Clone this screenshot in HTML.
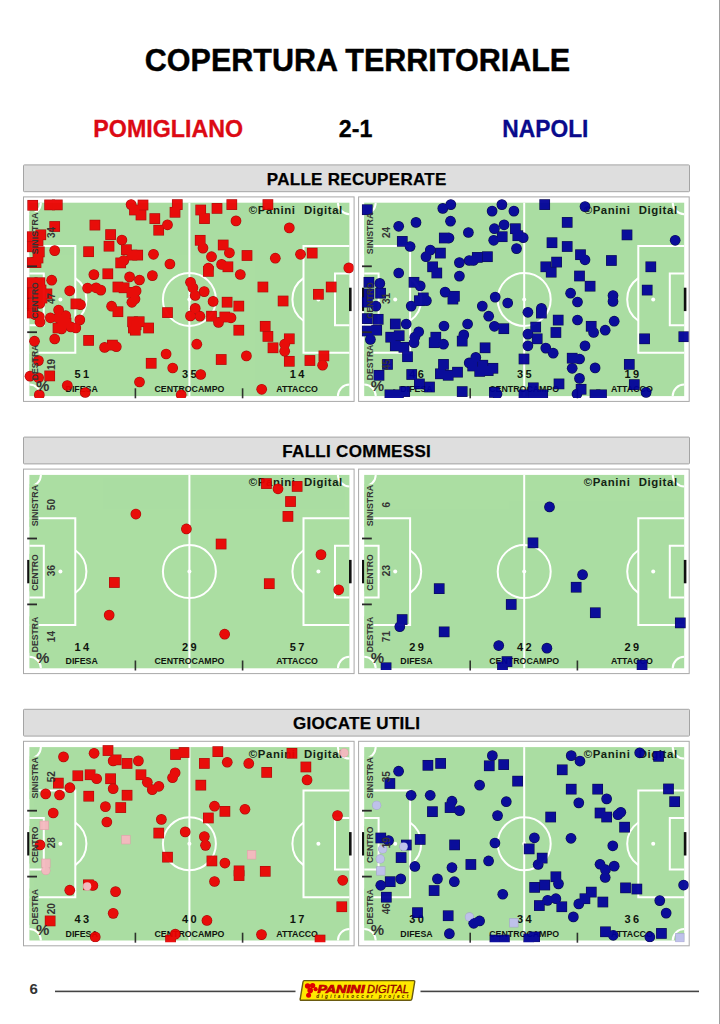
<!DOCTYPE html>
<html><head><meta charset="utf-8"><title>Copertura Territoriale</title>
<style>html,body{margin:0;padding:0;background:#fff;}svg{display:block;font-family:'Liberation Sans', Arial, sans-serif;}</style>
</head><body>
<svg width="720" height="1024" viewBox="0 0 720 1024">
<rect x="0" y="0" width="720" height="1024" fill="#fff"/>
<rect x="719" y="0" width="1" height="1024" fill="#a0a0a0"/>
<text x="357.5" y="70.6" text-anchor="middle" font-size="30.5" font-weight="bold" fill="#000" stroke="#000" stroke-width="0.4">COPERTURA TERRITORIALE</text>
<text transform="translate(168.2 136.8) scale(1.02 1.08)" text-anchor="middle" font-size="22.8" font-weight="bold" fill="#dc0a14" stroke="#dc0a14" stroke-width="0.3">POMIGLIANO</text>
<text transform="translate(355.6 136.8) scale(1.02 1.08)" text-anchor="middle" font-size="22.8" font-weight="bold" fill="#000" stroke="#000" stroke-width="0.3">2-1</text>
<text transform="translate(545.4 136.8) scale(1.0 1.08)" text-anchor="middle" font-size="22.8" font-weight="bold" fill="#0a0a8c" stroke="#0a0a8c" stroke-width="0.3">NAPOLI</text>
<rect x="23.5" y="164.9" width="666" height="26.8" rx="0.8" fill="#dedede" stroke="#a4a4a4" stroke-width="1"/>
<text x="356.7" y="184.5" text-anchor="middle" font-size="17" font-weight="bold" letter-spacing="0.3" fill="#000" stroke="#000" stroke-width="0.25">PALLE RECUPERATE</text>
<rect x="23.5" y="196.9" width="330.6" height="204.5" fill="#fff" stroke="#a8a8a8" stroke-width="1"/>
<rect x="29.4" y="202.7" width="320" height="193.4" fill="#abdea2"/>
<line x1="189.4" y1="202.7" x2="189.4" y2="396.1" fill="none" stroke="#ffffff" stroke-width="2"/>
<circle cx="189.4" cy="299.4" r="26.5" fill="none" stroke="#ffffff" stroke-width="2"/>
<circle cx="189.4" cy="299.4" r="2" fill="#ffffff"/>
<path d="M29.4 246H75.3V352.8H29.4" fill="none" stroke="#ffffff" stroke-width="2"/>
<path d="M29.4 273.6H43.8V325.2H29.4" fill="none" stroke="#ffffff" stroke-width="2"/>
<circle cx="60.4" cy="299.4" r="2" fill="#ffffff"/>
<path d="M75.3 278.09A26.0 26.0 0 0 1 75.3 320.71" fill="none" stroke="#ffffff" stroke-width="2"/>
<path d="M349.4 246H303.5V352.8H349.4" fill="none" stroke="#ffffff" stroke-width="2"/>
<path d="M349.4 273.6H335V325.2H349.4" fill="none" stroke="#ffffff" stroke-width="2"/>
<circle cx="318.4" cy="299.4" r="2" fill="#ffffff"/>
<path d="M303.5 278.09A26.0 26.0 0 0 0 303.5 320.71" fill="none" stroke="#ffffff" stroke-width="2"/>
<path d="M40.9 202.7A11.5 11.5 0 0 1 29.4 214.2" fill="none" stroke="#ffffff" stroke-width="2"/>
<path d="M337.9 202.7A11.5 11.5 0 0 0 349.4 214.2" fill="none" stroke="#ffffff" stroke-width="2"/>
<path d="M29.4 384.6A11.5 11.5 0 0 1 40.9 396.1" fill="none" stroke="#ffffff" stroke-width="2"/>
<path d="M349.4 384.6A11.5 11.5 0 0 0 337.9 396.1" fill="none" stroke="#ffffff" stroke-width="2"/>
<rect x="27.2" y="287.7" width="2.6" height="23.4" fill="#111"/>
<rect x="349" y="287.7" width="2.6" height="23.4" fill="#111"/>
<rect x="29.4" y="212.15" width="9.2" height="42.5" fill="#abdea2"/>
<rect x="29.4" y="281.65" width="9.2" height="37.5" fill="#abdea2"/>
<rect x="29.4" y="344.15" width="9.2" height="36.5" fill="#abdea2"/>
<text x="342.9" y="214" text-anchor="end" font-size="11.4" font-weight="bold" letter-spacing="0.6" word-spacing="4.5" fill="#142414">©Panini Digital</text>
<g opacity="0.9">
<text x="82.9" y="378.4" text-anchor="middle" font-size="11" font-weight="bold" letter-spacing="2.4" fill="#000000">51</text>
<text x="190.6" y="378.4" text-anchor="middle" font-size="11" font-weight="bold" letter-spacing="2.4" fill="#000000">35</text>
<text x="298.3" y="378.4" text-anchor="middle" font-size="11" font-weight="bold" letter-spacing="2.4" fill="#000000">14</text>
<text x="81.7" y="392.1" text-anchor="middle" font-size="8.8" font-weight="bold" fill="#000000">DIFESA</text>
<text x="189.4" y="392.1" text-anchor="middle" font-size="8.8" font-weight="bold" fill="#000000">CENTROCAMPO</text>
<text x="297.1" y="392.1" text-anchor="middle" font-size="8.8" font-weight="bold" fill="#000000">ATTACCO</text>
<rect x="134.6" y="388.3" width="1.6" height="10" fill="#222"/>
<rect x="241.8" y="388.3" width="1.6" height="10" fill="#222"/>
</g>
<g clip-path="url(#c00)" opacity="0.94">
<rect x="27.35" y="199.95" width="10.7" height="10.7" fill="#a80000"/>
<rect x="44.25" y="199.55" width="10.7" height="10.7" fill="#a80000"/>
<rect x="51.95" y="199.55" width="10.7" height="10.7" fill="#a80000"/>
<rect x="49.35" y="221.15" width="10.7" height="10.7" fill="#a80000"/>
<rect x="26.95" y="231.35" width="10.7" height="10.7" fill="#a80000"/>
<rect x="35.45" y="229.45" width="10.7" height="10.7" fill="#a80000"/>
<rect x="26.95" y="241.45" width="10.7" height="10.7" fill="#a80000"/>
<rect x="33.95" y="246.55" width="10.7" height="10.7" fill="#a80000"/>
<rect x="26.95" y="257.25" width="10.7" height="10.7" fill="#a80000"/>
<rect x="30.65" y="257.25" width="10.7" height="10.7" fill="#a80000"/>
<circle cx="54.7" cy="250.6" r="5.35" fill="#a80000"/>
<rect x="26.95" y="277.35" width="10.7" height="10.7" fill="#a80000"/>
<rect x="34.45" y="277.35" width="10.7" height="10.7" fill="#a80000"/>
<rect x="41.55" y="288.55" width="10.7" height="10.7" fill="#a80000"/>
<rect x="26.95" y="287.55" width="10.7" height="10.7" fill="#a80000"/>
<circle cx="51.7" cy="280.2" r="5.35" fill="#a80000"/>
<circle cx="69.7" cy="290.8" r="5.35" fill="#a80000"/>
<circle cx="131.1" cy="204.6" r="5.35" fill="#a80000"/>
<rect x="89.55" y="219.75" width="10.7" height="10.7" fill="#a80000"/>
<rect x="105.25" y="229.25" width="10.7" height="10.7" fill="#a80000"/>
<circle cx="121.9" cy="240" r="5.35" fill="#a80000"/>
<rect x="83.25" y="246.35" width="10.7" height="10.7" fill="#a80000"/>
<rect x="103.65" y="240.85" width="10.7" height="10.7" fill="#a80000"/>
<rect x="121.05" y="244.35" width="10.7" height="10.7" fill="#a80000"/>
<rect x="126.55" y="249.75" width="10.7" height="10.7" fill="#a80000"/>
<circle cx="123.8" cy="260.5" r="5.35" fill="#a80000"/>
<rect x="115.35" y="257.55" width="10.7" height="10.7" fill="#a80000"/>
<circle cx="93.9" cy="274.6" r="5.35" fill="#a80000"/>
<rect x="102.45" y="268.45" width="10.7" height="10.7" fill="#a80000"/>
<circle cx="129.6" cy="276.9" r="5.35" fill="#a80000"/>
<circle cx="87.6" cy="288.1" r="5.35" fill="#a80000"/>
<circle cx="96.1" cy="287.8" r="5.35" fill="#a80000"/>
<circle cx="100.8" cy="290.1" r="5.35" fill="#a80000"/>
<rect x="112.55" y="281.65" width="10.7" height="10.7" fill="#a80000"/>
<rect x="118.75" y="282.45" width="10.7" height="10.7" fill="#a80000"/>
<rect x="126.55" y="287.05" width="10.7" height="10.7" fill="#a80000"/>
<rect x="26.95" y="298.15" width="10.7" height="10.7" fill="#a80000"/>
<circle cx="39.8" cy="303.5" r="5.35" fill="#a80000"/>
<circle cx="39.3" cy="316.7" r="5.35" fill="#a80000"/>
<circle cx="35.2" cy="314.7" r="5.35" fill="#a80000"/>
<rect x="70.55" y="298.55" width="10.7" height="10.7" fill="#a80000"/>
<circle cx="80.5" cy="304.7" r="5.35" fill="#a80000"/>
<circle cx="58.6" cy="310.1" r="5.35" fill="#a80000"/>
<circle cx="50.4" cy="317.8" r="5.35" fill="#a80000"/>
<circle cx="58.1" cy="317.8" r="5.35" fill="#a80000"/>
<circle cx="65.7" cy="315.7" r="5.35" fill="#a80000"/>
<circle cx="61.6" cy="328.9" r="5.35" fill="#a80000"/>
<circle cx="70.8" cy="326.9" r="5.35" fill="#a80000"/>
<circle cx="75.8" cy="327.9" r="5.35" fill="#a80000"/>
<circle cx="79.8" cy="319.9" r="5.35" fill="#a80000"/>
<circle cx="54.7" cy="339" r="5.35" fill="#a80000"/>
<circle cx="34.5" cy="341.2" r="5.35" fill="#a80000"/>
<rect x="83.25" y="335.05" width="10.7" height="10.7" fill="#a80000"/>
<circle cx="104.6" cy="347.4" r="5.35" fill="#a80000"/>
<rect x="107.05" y="339.75" width="10.7" height="10.7" fill="#a80000"/>
<circle cx="116.3" cy="346.7" r="5.35" fill="#a80000"/>
<circle cx="111.6" cy="306.2" r="5.35" fill="#a80000"/>
<rect x="112.55" y="306.35" width="10.7" height="10.7" fill="#a80000"/>
<circle cx="131.9" cy="302.3" r="5.35" fill="#a80000"/>
<rect x="127.25" y="316.45" width="10.7" height="10.7" fill="#a80000"/>
<rect x="128.05" y="322.65" width="10.7" height="10.7" fill="#a80000"/>
<circle cx="38.4" cy="360.6" r="5.35" fill="#a80000"/>
<circle cx="30" cy="376.2" r="5.35" fill="#a80000"/>
<circle cx="38.6" cy="377.8" r="5.35" fill="#a80000"/>
<rect x="44.35" y="370.55" width="10.7" height="10.7" fill="#a80000"/>
<circle cx="67.3" cy="385.5" r="5.35" fill="#a80000"/>
<circle cx="85.2" cy="392.5" r="5.35" fill="#a80000"/>
<circle cx="39.3" cy="394.9" r="5.35" fill="#a80000"/>
<rect x="137.65" y="199.65" width="10.7" height="10.7" fill="#a80000"/>
<rect x="135.65" y="209.65" width="10.7" height="10.7" fill="#a80000"/>
<rect x="171.95" y="199.25" width="10.7" height="10.7" fill="#a80000"/>
<rect x="169.65" y="206.95" width="10.7" height="10.7" fill="#a80000"/>
<rect x="149.45" y="213.25" width="10.7" height="10.7" fill="#a80000"/>
<circle cx="167.5" cy="224.8" r="5.35" fill="#a80000"/>
<rect x="153.35" y="224.85" width="10.7" height="10.7" fill="#a80000"/>
<rect x="195.35" y="204.65" width="10.7" height="10.7" fill="#a80000"/>
<rect x="199.15" y="213.25" width="10.7" height="10.7" fill="#a80000"/>
<rect x="211.65" y="203.05" width="10.7" height="10.7" fill="#a80000"/>
<rect x="226.45" y="199.25" width="10.7" height="10.7" fill="#a80000"/>
<circle cx="236" cy="220.9" r="5.35" fill="#a80000"/>
<rect x="194.85" y="234.95" width="10.7" height="10.7" fill="#a80000"/>
<circle cx="203" cy="248.1" r="5.35" fill="#a80000"/>
<rect x="217.85" y="239.65" width="10.7" height="10.7" fill="#a80000"/>
<circle cx="229.4" cy="252.8" r="5.35" fill="#a80000"/>
<circle cx="211.5" cy="256.7" r="5.35" fill="#a80000"/>
<rect x="132.35" y="249.75" width="10.7" height="10.7" fill="#a80000"/>
<circle cx="153.5" cy="254.3" r="5.35" fill="#a80000"/>
<circle cx="169.9" cy="264" r="5.35" fill="#a80000"/>
<circle cx="221.6" cy="264.4" r="5.35" fill="#a80000"/>
<rect x="222.55" y="261.45" width="10.7" height="10.7" fill="#a80000"/>
<rect x="203.05" y="266.05" width="10.7" height="10.7" fill="#a80000"/>
<circle cx="208.4" cy="268" r="5.35" fill="#a80000"/>
<circle cx="240.3" cy="274.5" r="5.35" fill="#a80000"/>
<circle cx="152.4" cy="275.6" r="5.35" fill="#a80000"/>
<circle cx="139.5" cy="280" r="5.35" fill="#a80000"/>
<circle cx="136.1" cy="290.9" r="5.35" fill="#a80000"/>
<circle cx="190.5" cy="282.3" r="5.35" fill="#a80000"/>
<circle cx="192.9" cy="287.8" r="5.35" fill="#a80000"/>
<circle cx="204.2" cy="291.6" r="5.35" fill="#a80000"/>
<circle cx="195.2" cy="295.5" r="5.35" fill="#a80000"/>
<rect x="262.55" y="199.25" width="10.7" height="10.7" fill="#a80000"/>
<circle cx="289.3" cy="227.9" r="5.35" fill="#a80000"/>
<rect x="241.65" y="250.15" width="10.7" height="10.7" fill="#a80000"/>
<circle cx="275.3" cy="258.2" r="5.35" fill="#a80000"/>
<circle cx="300.5" cy="254.3" r="5.35" fill="#a80000"/>
<rect x="306.85" y="247.75" width="10.7" height="10.7" fill="#a80000"/>
<circle cx="348.8" cy="267.9" r="5.35" fill="#a80000"/>
<rect x="257.55" y="281.65" width="10.7" height="10.7" fill="#a80000"/>
<rect x="325.85" y="281.65" width="10.7" height="10.7" fill="#a80000"/>
<rect x="313.05" y="288.95" width="10.7" height="10.7" fill="#a80000"/>
<circle cx="135" cy="299" r="5.35" fill="#a80000"/>
<circle cx="213.1" cy="301.4" r="5.35" fill="#a80000"/>
<rect x="221.75" y="296.85" width="10.7" height="10.7" fill="#a80000"/>
<rect x="233.45" y="300.75" width="10.7" height="10.7" fill="#a80000"/>
<rect x="162.15" y="307.25" width="10.7" height="10.7" fill="#a80000"/>
<circle cx="195.2" cy="308.4" r="5.35" fill="#a80000"/>
<circle cx="190.5" cy="315.9" r="5.35" fill="#a80000"/>
<circle cx="199.9" cy="316.2" r="5.35" fill="#a80000"/>
<rect x="206.15" y="310.85" width="10.7" height="10.7" fill="#a80000"/>
<circle cx="218.5" cy="322.4" r="5.35" fill="#a80000"/>
<rect x="219.45" y="311.65" width="10.7" height="10.7" fill="#a80000"/>
<circle cx="231" cy="317.8" r="5.35" fill="#a80000"/>
<rect x="233.45" y="324.85" width="10.7" height="10.7" fill="#a80000"/>
<rect x="130.75" y="319.45" width="10.7" height="10.7" fill="#a80000"/>
<rect x="133.85" y="316.35" width="10.7" height="10.7" fill="#a80000"/>
<rect x="143.25" y="322.65" width="10.7" height="10.7" fill="#a80000"/>
<rect x="129.95" y="324.85" width="10.7" height="10.7" fill="#a80000"/>
<circle cx="196.8" cy="344.2" r="5.35" fill="#a80000"/>
<circle cx="166.1" cy="354" r="5.35" fill="#a80000"/>
<rect x="145.85" y="357.95" width="10.7" height="10.7" fill="#a80000"/>
<circle cx="172.7" cy="368" r="5.35" fill="#a80000"/>
<rect x="215.85" y="354.15" width="10.7" height="10.7" fill="#a80000"/>
<circle cx="200.7" cy="374.5" r="5.35" fill="#a80000"/>
<circle cx="139.5" cy="382" r="5.35" fill="#a80000"/>
<circle cx="181.2" cy="394.8" r="5.35" fill="#a80000"/>
<rect x="277.75" y="295.65" width="10.7" height="10.7" fill="#a80000"/>
<rect x="259.85" y="320.95" width="10.7" height="10.7" fill="#a80000"/>
<rect x="262.55" y="331.05" width="10.7" height="10.7" fill="#a80000"/>
<rect x="267.65" y="342.45" width="10.7" height="10.7" fill="#a80000"/>
<rect x="283.95" y="333.45" width="10.7" height="10.7" fill="#a80000"/>
<circle cx="284.7" cy="344.2" r="5.35" fill="#a80000"/>
<circle cx="284.7" cy="351.2" r="5.35" fill="#a80000"/>
<rect x="283.95" y="355.95" width="10.7" height="10.7" fill="#a80000"/>
<circle cx="246.4" cy="355.9" r="5.35" fill="#a80000"/>
<rect x="304.55" y="355.15" width="10.7" height="10.7" fill="#a80000"/>
<rect x="318.55" y="350.55" width="10.7" height="10.7" fill="#a80000"/>
<circle cx="322.6" cy="365.2" r="5.35" fill="#a80000"/>
<circle cx="261.7" cy="389.3" r="5.35" fill="#a80000"/>
<rect x="129.15" y="204.65" width="10.7" height="10.7" fill="#a80000"/>
<rect x="32.65" y="235.65" width="10.7" height="10.7" fill="#a80000"/>
<rect x="32.65" y="252.65" width="10.7" height="10.7" fill="#a80000"/>
<rect x="60.65" y="317.65" width="10.7" height="10.7" fill="#a80000"/>
<rect x="26.95" y="307.65" width="10.7" height="10.7" fill="#a80000"/>
<circle cx="40" cy="322" r="5.35" fill="#a80000"/>
<rect x="36.65" y="292.65" width="10.7" height="10.7" fill="#a80000"/>
<rect x="35.65" y="284.65" width="10.7" height="10.7" fill="#a80000"/>
<circle cx="62" cy="322" r="5.35" fill="#a80000"/>
<rect x="52.65" y="322.65" width="10.7" height="10.7" fill="#a80000"/>
<rect x="27.95" y="200.55" width="9.5" height="9.5" fill="#ec0000"/>
<rect x="44.85" y="200.15" width="9.5" height="9.5" fill="#ec0000"/>
<rect x="52.55" y="200.15" width="9.5" height="9.5" fill="#ec0000"/>
<rect x="49.95" y="221.75" width="9.5" height="9.5" fill="#ec0000"/>
<rect x="27.55" y="231.95" width="9.5" height="9.5" fill="#ec0000"/>
<rect x="36.05" y="230.05" width="9.5" height="9.5" fill="#ec0000"/>
<rect x="27.55" y="242.05" width="9.5" height="9.5" fill="#ec0000"/>
<rect x="34.55" y="247.15" width="9.5" height="9.5" fill="#ec0000"/>
<rect x="27.55" y="257.85" width="9.5" height="9.5" fill="#ec0000"/>
<rect x="31.25" y="257.85" width="9.5" height="9.5" fill="#ec0000"/>
<circle cx="54.7" cy="250.6" r="4.75" fill="#ec0000"/>
<rect x="27.55" y="277.95" width="9.5" height="9.5" fill="#ec0000"/>
<rect x="35.05" y="277.95" width="9.5" height="9.5" fill="#ec0000"/>
<rect x="42.15" y="289.15" width="9.5" height="9.5" fill="#ec0000"/>
<rect x="27.55" y="288.15" width="9.5" height="9.5" fill="#ec0000"/>
<circle cx="51.7" cy="280.2" r="4.75" fill="#ec0000"/>
<circle cx="69.7" cy="290.8" r="4.75" fill="#ec0000"/>
<circle cx="131.1" cy="204.6" r="4.75" fill="#ec0000"/>
<rect x="90.15" y="220.35" width="9.5" height="9.5" fill="#ec0000"/>
<rect x="105.85" y="229.85" width="9.5" height="9.5" fill="#ec0000"/>
<circle cx="121.9" cy="240" r="4.75" fill="#ec0000"/>
<rect x="83.85" y="246.95" width="9.5" height="9.5" fill="#ec0000"/>
<rect x="104.25" y="241.45" width="9.5" height="9.5" fill="#ec0000"/>
<rect x="121.65" y="244.95" width="9.5" height="9.5" fill="#ec0000"/>
<rect x="127.15" y="250.35" width="9.5" height="9.5" fill="#ec0000"/>
<circle cx="123.8" cy="260.5" r="4.75" fill="#ec0000"/>
<rect x="115.95" y="258.15" width="9.5" height="9.5" fill="#ec0000"/>
<circle cx="93.9" cy="274.6" r="4.75" fill="#ec0000"/>
<rect x="103.05" y="269.05" width="9.5" height="9.5" fill="#ec0000"/>
<circle cx="129.6" cy="276.9" r="4.75" fill="#ec0000"/>
<circle cx="87.6" cy="288.1" r="4.75" fill="#ec0000"/>
<circle cx="96.1" cy="287.8" r="4.75" fill="#ec0000"/>
<circle cx="100.8" cy="290.1" r="4.75" fill="#ec0000"/>
<rect x="113.15" y="282.25" width="9.5" height="9.5" fill="#ec0000"/>
<rect x="119.35" y="283.05" width="9.5" height="9.5" fill="#ec0000"/>
<rect x="127.15" y="287.65" width="9.5" height="9.5" fill="#ec0000"/>
<rect x="27.55" y="298.75" width="9.5" height="9.5" fill="#ec0000"/>
<circle cx="39.8" cy="303.5" r="4.75" fill="#ec0000"/>
<circle cx="39.3" cy="316.7" r="4.75" fill="#ec0000"/>
<circle cx="35.2" cy="314.7" r="4.75" fill="#ec0000"/>
<rect x="71.15" y="299.15" width="9.5" height="9.5" fill="#ec0000"/>
<circle cx="80.5" cy="304.7" r="4.75" fill="#ec0000"/>
<circle cx="58.6" cy="310.1" r="4.75" fill="#ec0000"/>
<circle cx="50.4" cy="317.8" r="4.75" fill="#ec0000"/>
<circle cx="58.1" cy="317.8" r="4.75" fill="#ec0000"/>
<circle cx="65.7" cy="315.7" r="4.75" fill="#ec0000"/>
<circle cx="61.6" cy="328.9" r="4.75" fill="#ec0000"/>
<circle cx="70.8" cy="326.9" r="4.75" fill="#ec0000"/>
<circle cx="75.8" cy="327.9" r="4.75" fill="#ec0000"/>
<circle cx="79.8" cy="319.9" r="4.75" fill="#ec0000"/>
<circle cx="54.7" cy="339" r="4.75" fill="#ec0000"/>
<circle cx="34.5" cy="341.2" r="4.75" fill="#ec0000"/>
<rect x="83.85" y="335.65" width="9.5" height="9.5" fill="#ec0000"/>
<circle cx="104.6" cy="347.4" r="4.75" fill="#ec0000"/>
<rect x="107.65" y="340.35" width="9.5" height="9.5" fill="#ec0000"/>
<circle cx="116.3" cy="346.7" r="4.75" fill="#ec0000"/>
<circle cx="111.6" cy="306.2" r="4.75" fill="#ec0000"/>
<rect x="113.15" y="306.95" width="9.5" height="9.5" fill="#ec0000"/>
<circle cx="131.9" cy="302.3" r="4.75" fill="#ec0000"/>
<rect x="127.85" y="317.05" width="9.5" height="9.5" fill="#ec0000"/>
<rect x="128.65" y="323.25" width="9.5" height="9.5" fill="#ec0000"/>
<circle cx="38.4" cy="360.6" r="4.75" fill="#ec0000"/>
<circle cx="30" cy="376.2" r="4.75" fill="#ec0000"/>
<circle cx="38.6" cy="377.8" r="4.75" fill="#ec0000"/>
<rect x="44.95" y="371.15" width="9.5" height="9.5" fill="#ec0000"/>
<circle cx="67.3" cy="385.5" r="4.75" fill="#ec0000"/>
<circle cx="85.2" cy="392.5" r="4.75" fill="#ec0000"/>
<circle cx="39.3" cy="394.9" r="4.75" fill="#ec0000"/>
<rect x="138.25" y="200.25" width="9.5" height="9.5" fill="#ec0000"/>
<rect x="136.25" y="210.25" width="9.5" height="9.5" fill="#ec0000"/>
<rect x="172.55" y="199.85" width="9.5" height="9.5" fill="#ec0000"/>
<rect x="170.25" y="207.55" width="9.5" height="9.5" fill="#ec0000"/>
<rect x="150.05" y="213.85" width="9.5" height="9.5" fill="#ec0000"/>
<circle cx="167.5" cy="224.8" r="4.75" fill="#ec0000"/>
<rect x="153.95" y="225.45" width="9.5" height="9.5" fill="#ec0000"/>
<rect x="195.95" y="205.25" width="9.5" height="9.5" fill="#ec0000"/>
<rect x="199.75" y="213.85" width="9.5" height="9.5" fill="#ec0000"/>
<rect x="212.25" y="203.65" width="9.5" height="9.5" fill="#ec0000"/>
<rect x="227.05" y="199.85" width="9.5" height="9.5" fill="#ec0000"/>
<circle cx="236" cy="220.9" r="4.75" fill="#ec0000"/>
<rect x="195.45" y="235.55" width="9.5" height="9.5" fill="#ec0000"/>
<circle cx="203" cy="248.1" r="4.75" fill="#ec0000"/>
<rect x="218.45" y="240.25" width="9.5" height="9.5" fill="#ec0000"/>
<circle cx="229.4" cy="252.8" r="4.75" fill="#ec0000"/>
<circle cx="211.5" cy="256.7" r="4.75" fill="#ec0000"/>
<rect x="132.95" y="250.35" width="9.5" height="9.5" fill="#ec0000"/>
<circle cx="153.5" cy="254.3" r="4.75" fill="#ec0000"/>
<circle cx="169.9" cy="264" r="4.75" fill="#ec0000"/>
<circle cx="221.6" cy="264.4" r="4.75" fill="#ec0000"/>
<rect x="223.15" y="262.05" width="9.5" height="9.5" fill="#ec0000"/>
<rect x="203.65" y="266.65" width="9.5" height="9.5" fill="#ec0000"/>
<circle cx="208.4" cy="268" r="4.75" fill="#ec0000"/>
<circle cx="240.3" cy="274.5" r="4.75" fill="#ec0000"/>
<circle cx="152.4" cy="275.6" r="4.75" fill="#ec0000"/>
<circle cx="139.5" cy="280" r="4.75" fill="#ec0000"/>
<circle cx="136.1" cy="290.9" r="4.75" fill="#ec0000"/>
<circle cx="190.5" cy="282.3" r="4.75" fill="#ec0000"/>
<circle cx="192.9" cy="287.8" r="4.75" fill="#ec0000"/>
<circle cx="204.2" cy="291.6" r="4.75" fill="#ec0000"/>
<circle cx="195.2" cy="295.5" r="4.75" fill="#ec0000"/>
<rect x="263.15" y="199.85" width="9.5" height="9.5" fill="#ec0000"/>
<circle cx="289.3" cy="227.9" r="4.75" fill="#ec0000"/>
<rect x="242.25" y="250.75" width="9.5" height="9.5" fill="#ec0000"/>
<circle cx="275.3" cy="258.2" r="4.75" fill="#ec0000"/>
<circle cx="300.5" cy="254.3" r="4.75" fill="#ec0000"/>
<rect x="307.45" y="248.35" width="9.5" height="9.5" fill="#ec0000"/>
<circle cx="348.8" cy="267.9" r="4.75" fill="#ec0000"/>
<rect x="258.15" y="282.25" width="9.5" height="9.5" fill="#ec0000"/>
<rect x="326.45" y="282.25" width="9.5" height="9.5" fill="#ec0000"/>
<rect x="313.65" y="289.55" width="9.5" height="9.5" fill="#ec0000"/>
<circle cx="135" cy="299" r="4.75" fill="#ec0000"/>
<circle cx="213.1" cy="301.4" r="4.75" fill="#ec0000"/>
<rect x="222.35" y="297.45" width="9.5" height="9.5" fill="#ec0000"/>
<rect x="234.05" y="301.35" width="9.5" height="9.5" fill="#ec0000"/>
<rect x="162.75" y="307.85" width="9.5" height="9.5" fill="#ec0000"/>
<circle cx="195.2" cy="308.4" r="4.75" fill="#ec0000"/>
<circle cx="190.5" cy="315.9" r="4.75" fill="#ec0000"/>
<circle cx="199.9" cy="316.2" r="4.75" fill="#ec0000"/>
<rect x="206.75" y="311.45" width="9.5" height="9.5" fill="#ec0000"/>
<circle cx="218.5" cy="322.4" r="4.75" fill="#ec0000"/>
<rect x="220.05" y="312.25" width="9.5" height="9.5" fill="#ec0000"/>
<circle cx="231" cy="317.8" r="4.75" fill="#ec0000"/>
<rect x="234.05" y="325.45" width="9.5" height="9.5" fill="#ec0000"/>
<rect x="131.35" y="320.05" width="9.5" height="9.5" fill="#ec0000"/>
<rect x="134.45" y="316.95" width="9.5" height="9.5" fill="#ec0000"/>
<rect x="143.85" y="323.25" width="9.5" height="9.5" fill="#ec0000"/>
<rect x="130.55" y="325.45" width="9.5" height="9.5" fill="#ec0000"/>
<circle cx="196.8" cy="344.2" r="4.75" fill="#ec0000"/>
<circle cx="166.1" cy="354" r="4.75" fill="#ec0000"/>
<rect x="146.45" y="358.55" width="9.5" height="9.5" fill="#ec0000"/>
<circle cx="172.7" cy="368" r="4.75" fill="#ec0000"/>
<rect x="216.45" y="354.75" width="9.5" height="9.5" fill="#ec0000"/>
<circle cx="200.7" cy="374.5" r="4.75" fill="#ec0000"/>
<circle cx="139.5" cy="382" r="4.75" fill="#ec0000"/>
<circle cx="181.2" cy="394.8" r="4.75" fill="#ec0000"/>
<rect x="278.35" y="296.25" width="9.5" height="9.5" fill="#ec0000"/>
<rect x="260.45" y="321.55" width="9.5" height="9.5" fill="#ec0000"/>
<rect x="263.15" y="331.65" width="9.5" height="9.5" fill="#ec0000"/>
<rect x="268.25" y="343.05" width="9.5" height="9.5" fill="#ec0000"/>
<rect x="284.55" y="334.05" width="9.5" height="9.5" fill="#ec0000"/>
<circle cx="284.7" cy="344.2" r="4.75" fill="#ec0000"/>
<circle cx="284.7" cy="351.2" r="4.75" fill="#ec0000"/>
<rect x="284.55" y="356.55" width="9.5" height="9.5" fill="#ec0000"/>
<circle cx="246.4" cy="355.9" r="4.75" fill="#ec0000"/>
<rect x="305.15" y="355.75" width="9.5" height="9.5" fill="#ec0000"/>
<rect x="319.15" y="351.15" width="9.5" height="9.5" fill="#ec0000"/>
<circle cx="322.6" cy="365.2" r="4.75" fill="#ec0000"/>
<circle cx="261.7" cy="389.3" r="4.75" fill="#ec0000"/>
<rect x="129.75" y="205.25" width="9.5" height="9.5" fill="#ec0000"/>
<rect x="33.25" y="236.25" width="9.5" height="9.5" fill="#ec0000"/>
<rect x="33.25" y="253.25" width="9.5" height="9.5" fill="#ec0000"/>
<rect x="61.25" y="318.25" width="9.5" height="9.5" fill="#ec0000"/>
<rect x="27.55" y="308.25" width="9.5" height="9.5" fill="#ec0000"/>
<circle cx="40" cy="322" r="4.75" fill="#ec0000"/>
<rect x="37.25" y="293.25" width="9.5" height="9.5" fill="#ec0000"/>
<rect x="36.25" y="285.25" width="9.5" height="9.5" fill="#ec0000"/>
<circle cx="62" cy="322" r="4.75" fill="#ec0000"/>
<rect x="53.25" y="323.25" width="9.5" height="9.5" fill="#ec0000"/>
</g>
<g>
<text transform="translate(38 233.4) rotate(-90)" text-anchor="middle" font-size="8.7" font-weight="bold" textLength="41.5" lengthAdjust="spacingAndGlyphs" fill="#343434">SINISTRA</text>
<text transform="translate(38 300.4) rotate(-90)" text-anchor="middle" font-size="8.7" font-weight="bold" textLength="36.5" lengthAdjust="spacingAndGlyphs" fill="#343434">CENTRO</text>
<text transform="translate(38 362.4) rotate(-90)" text-anchor="middle" font-size="8.7" font-weight="bold" textLength="35.5" lengthAdjust="spacingAndGlyphs" fill="#343434">DESTRA</text>
<rect x="27.2" y="265.4" width="9.8" height="1.8" fill="#2a2a2a"/>
<rect x="27.2" y="331.3" width="9.8" height="1.8" fill="#2a2a2a"/>
<text transform="translate(54.7 232.4) rotate(-90)" text-anchor="middle" font-size="10" font-weight="bold" fill="#343434">34</text>
<text transform="translate(54.7 298.4) rotate(-90)" text-anchor="middle" font-size="10" font-weight="bold" fill="#343434">47</text>
<text transform="translate(54.7 364.4) rotate(-90)" text-anchor="middle" font-size="10" font-weight="bold" fill="#343434">19</text>
<text x="35.9" y="390.9" font-size="15" font-weight="bold" fill="#343434">%</text>
</g>
<clipPath id="c00"><rect x="24" y="197.4" width="329.6" height="200.5"/></clipPath>
<rect x="358.6" y="196.9" width="330.6" height="204.5" fill="#fff" stroke="#a8a8a8" stroke-width="1"/>
<rect x="364.2" y="202.7" width="320" height="193.4" fill="#abdea2"/>
<line x1="524.2" y1="202.7" x2="524.2" y2="396.1" fill="none" stroke="#ffffff" stroke-width="2"/>
<circle cx="524.2" cy="299.4" r="26.5" fill="none" stroke="#ffffff" stroke-width="2"/>
<circle cx="524.2" cy="299.4" r="2" fill="#ffffff"/>
<path d="M364.2 246H410.1V352.8H364.2" fill="none" stroke="#ffffff" stroke-width="2"/>
<path d="M364.2 273.6H378.6V325.2H364.2" fill="none" stroke="#ffffff" stroke-width="2"/>
<circle cx="395.2" cy="299.4" r="2" fill="#ffffff"/>
<path d="M410.1 278.09A26.0 26.0 0 0 1 410.1 320.71" fill="none" stroke="#ffffff" stroke-width="2"/>
<path d="M684.2 246H638.3V352.8H684.2" fill="none" stroke="#ffffff" stroke-width="2"/>
<path d="M684.2 273.6H669.8V325.2H684.2" fill="none" stroke="#ffffff" stroke-width="2"/>
<circle cx="653.2" cy="299.4" r="2" fill="#ffffff"/>
<path d="M638.3 278.09A26.0 26.0 0 0 0 638.3 320.71" fill="none" stroke="#ffffff" stroke-width="2"/>
<path d="M375.7 202.7A11.5 11.5 0 0 1 364.2 214.2" fill="none" stroke="#ffffff" stroke-width="2"/>
<path d="M672.7 202.7A11.5 11.5 0 0 0 684.2 214.2" fill="none" stroke="#ffffff" stroke-width="2"/>
<path d="M364.2 384.6A11.5 11.5 0 0 1 375.7 396.1" fill="none" stroke="#ffffff" stroke-width="2"/>
<path d="M684.2 384.6A11.5 11.5 0 0 0 672.7 396.1" fill="none" stroke="#ffffff" stroke-width="2"/>
<rect x="362" y="287.7" width="2.6" height="23.4" fill="#111"/>
<rect x="683.8" y="287.7" width="2.6" height="23.4" fill="#111"/>
<rect x="364.2" y="212.15" width="9.2" height="42.5" fill="#abdea2"/>
<rect x="364.2" y="281.65" width="9.2" height="37.5" fill="#abdea2"/>
<rect x="364.2" y="344.15" width="9.2" height="36.5" fill="#abdea2"/>
<text x="677.7" y="214" text-anchor="end" font-size="11.4" font-weight="bold" letter-spacing="0.6" word-spacing="4.5" fill="#142414">©Panini Digital</text>
<g opacity="0.9">
<text x="417.7" y="378.4" text-anchor="middle" font-size="11" font-weight="bold" letter-spacing="2.4" fill="#000000">46</text>
<text x="525.4" y="378.4" text-anchor="middle" font-size="11" font-weight="bold" letter-spacing="2.4" fill="#000000">35</text>
<text x="633.1" y="378.4" text-anchor="middle" font-size="11" font-weight="bold" letter-spacing="2.4" fill="#000000">19</text>
<text x="416.5" y="392.1" text-anchor="middle" font-size="8.8" font-weight="bold" fill="#000000">DIFESA</text>
<text x="524.2" y="392.1" text-anchor="middle" font-size="8.8" font-weight="bold" fill="#000000">CENTROCAMPO</text>
<text x="631.9" y="392.1" text-anchor="middle" font-size="8.8" font-weight="bold" fill="#000000">ATTACCO</text>
<rect x="469.4" y="388.3" width="1.6" height="10" fill="#222"/>
<rect x="576.6" y="388.3" width="1.6" height="10" fill="#222"/>
</g>
<g clip-path="url(#c01)" opacity="0.94">
<rect x="361.95" y="204.35" width="10.7" height="10.7" fill="#00004a"/>
<circle cx="442.8" cy="208.4" r="5.35" fill="#00004a"/>
<circle cx="450.8" cy="204.6" r="5.35" fill="#00004a"/>
<circle cx="398.7" cy="226.3" r="5.35" fill="#00004a"/>
<circle cx="416" cy="222.4" r="5.35" fill="#00004a"/>
<circle cx="450.5" cy="221.2" r="5.35" fill="#00004a"/>
<circle cx="468.4" cy="232.5" r="5.35" fill="#00004a"/>
<rect x="438.95" y="232.65" width="10.7" height="10.7" fill="#00004a"/>
<circle cx="449" cy="238" r="5.35" fill="#00004a"/>
<rect x="396.95" y="236.05" width="10.7" height="10.7" fill="#00004a"/>
<circle cx="410.1" cy="246.5" r="5.35" fill="#00004a"/>
<circle cx="430.3" cy="250.1" r="5.35" fill="#00004a"/>
<circle cx="426" cy="256.7" r="5.35" fill="#00004a"/>
<rect x="435.05" y="247.75" width="10.7" height="10.7" fill="#00004a"/>
<circle cx="459.4" cy="262.6" r="5.35" fill="#00004a"/>
<circle cx="469.2" cy="260.5" r="5.35" fill="#00004a"/>
<rect x="427.25" y="261.45" width="10.7" height="10.7" fill="#00004a"/>
<rect x="431.45" y="267.65" width="10.7" height="10.7" fill="#00004a"/>
<circle cx="459.4" cy="276.1" r="5.35" fill="#00004a"/>
<circle cx="398.7" cy="273" r="5.35" fill="#00004a"/>
<rect x="408.65" y="276.95" width="10.7" height="10.7" fill="#00004a"/>
<circle cx="420.2" cy="285.9" r="5.35" fill="#00004a"/>
<rect x="363.55" y="276.95" width="10.7" height="10.7" fill="#00004a"/>
<circle cx="379.8" cy="283.4" r="5.35" fill="#00004a"/>
<rect x="363.55" y="288.65" width="10.7" height="10.7" fill="#00004a"/>
<rect x="375.25" y="287.85" width="10.7" height="10.7" fill="#00004a"/>
<circle cx="445.1" cy="292.1" r="5.35" fill="#00004a"/>
<rect x="449.05" y="290.95" width="10.7" height="10.7" fill="#00004a"/>
<rect x="417.95" y="292.55" width="10.7" height="10.7" fill="#00004a"/>
<circle cx="501.9" cy="204.6" r="5.35" fill="#00004a"/>
<circle cx="492.1" cy="211.1" r="5.35" fill="#00004a"/>
<circle cx="513.9" cy="211.1" r="5.35" fill="#00004a"/>
<rect x="539.35" y="199.25" width="10.7" height="10.7" fill="#00004a"/>
<circle cx="504.1" cy="224.8" r="5.35" fill="#00004a"/>
<circle cx="494.4" cy="228.7" r="5.35" fill="#00004a"/>
<rect x="510.05" y="223.35" width="10.7" height="10.7" fill="#00004a"/>
<rect x="496.85" y="231.35" width="10.7" height="10.7" fill="#00004a"/>
<circle cx="493.7" cy="240.3" r="5.35" fill="#00004a"/>
<circle cx="523.2" cy="237.7" r="5.35" fill="#00004a"/>
<rect x="512.45" y="230.35" width="10.7" height="10.7" fill="#00004a"/>
<circle cx="516.5" cy="248.6" r="5.35" fill="#00004a"/>
<rect x="561.85" y="217.05" width="10.7" height="10.7" fill="#00004a"/>
<rect x="546.65" y="237.35" width="10.7" height="10.7" fill="#00004a"/>
<rect x="561.85" y="241.15" width="10.7" height="10.7" fill="#00004a"/>
<rect x="471.95" y="252.05" width="10.7" height="10.7" fill="#00004a"/>
<rect x="482.05" y="251.35" width="10.7" height="10.7" fill="#00004a"/>
<circle cx="473.4" cy="260.5" r="5.35" fill="#00004a"/>
<rect x="540.45" y="261.45" width="10.7" height="10.7" fill="#00004a"/>
<rect x="551.25" y="256.75" width="10.7" height="10.7" fill="#00004a"/>
<rect x="545.85" y="266.85" width="10.7" height="10.7" fill="#00004a"/>
<circle cx="570.6" cy="293.2" r="5.35" fill="#00004a"/>
<circle cx="495.2" cy="297.1" r="5.35" fill="#00004a"/>
<circle cx="585" cy="206.6" r="5.35" fill="#00004a"/>
<rect x="621.65" y="229.55" width="10.7" height="10.7" fill="#00004a"/>
<circle cx="675.2" cy="240.3" r="5.35" fill="#00004a"/>
<rect x="575.15" y="249.35" width="10.7" height="10.7" fill="#00004a"/>
<circle cx="585" cy="259.8" r="5.35" fill="#00004a"/>
<rect x="606.05" y="255.15" width="10.7" height="10.7" fill="#00004a"/>
<rect x="645.45" y="261.45" width="10.7" height="10.7" fill="#00004a"/>
<rect x="574.15" y="270.65" width="10.7" height="10.7" fill="#00004a"/>
<rect x="584.75" y="280.85" width="10.7" height="10.7" fill="#00004a"/>
<rect x="641.85" y="284.75" width="10.7" height="10.7" fill="#00004a"/>
<circle cx="613" cy="295.5" r="5.35" fill="#00004a"/>
<rect x="361.95" y="296.85" width="10.7" height="10.7" fill="#00004a"/>
<circle cx="375.9" cy="306.1" r="5.35" fill="#00004a"/>
<rect x="361.95" y="313.25" width="10.7" height="10.7" fill="#00004a"/>
<rect x="372.85" y="313.95" width="10.7" height="10.7" fill="#00004a"/>
<rect x="361.95" y="325.65" width="10.7" height="10.7" fill="#00004a"/>
<rect x="371.35" y="324.85" width="10.7" height="10.7" fill="#00004a"/>
<circle cx="370.4" cy="339.5" r="5.35" fill="#00004a"/>
<rect x="414.05" y="295.35" width="10.7" height="10.7" fill="#00004a"/>
<circle cx="426.4" cy="300.7" r="5.35" fill="#00004a"/>
<rect x="447.55" y="293.75" width="10.7" height="10.7" fill="#00004a"/>
<circle cx="411.2" cy="306.1" r="5.35" fill="#00004a"/>
<rect x="389.95" y="318.65" width="10.7" height="10.7" fill="#00004a"/>
<circle cx="406.2" cy="324" r="5.35" fill="#00004a"/>
<rect x="385.35" y="331.85" width="10.7" height="10.7" fill="#00004a"/>
<rect x="393.85" y="330.35" width="10.7" height="10.7" fill="#00004a"/>
<rect x="389.95" y="340.45" width="10.7" height="10.7" fill="#00004a"/>
<rect x="398.55" y="341.95" width="10.7" height="10.7" fill="#00004a"/>
<rect x="402.15" y="351.35" width="10.7" height="10.7" fill="#00004a"/>
<circle cx="418.7" cy="331.8" r="5.35" fill="#00004a"/>
<circle cx="414.8" cy="337.2" r="5.35" fill="#00004a"/>
<circle cx="414" cy="342.7" r="5.35" fill="#00004a"/>
<rect x="428.85" y="337.35" width="10.7" height="10.7" fill="#00004a"/>
<circle cx="443.5" cy="344.2" r="5.35" fill="#00004a"/>
<rect x="430.45" y="331.85" width="10.7" height="10.7" fill="#00004a"/>
<circle cx="444" cy="326" r="5.35" fill="#00004a"/>
<circle cx="467.6" cy="324" r="5.35" fill="#00004a"/>
<circle cx="463.8" cy="334.9" r="5.35" fill="#00004a"/>
<rect x="456.85" y="335.75" width="10.7" height="10.7" fill="#00004a"/>
<rect x="382.15" y="359.05" width="10.7" height="10.7" fill="#00004a"/>
<rect x="373.65" y="369.95" width="10.7" height="10.7" fill="#00004a"/>
<rect x="406.35" y="369.15" width="10.7" height="10.7" fill="#00004a"/>
<rect x="414.05" y="378.55" width="10.7" height="10.7" fill="#00004a"/>
<rect x="424.15" y="381.65" width="10.7" height="10.7" fill="#00004a"/>
<rect x="438.15" y="359.05" width="10.7" height="10.7" fill="#00004a"/>
<rect x="435.05" y="368.45" width="10.7" height="10.7" fill="#00004a"/>
<rect x="442.85" y="369.95" width="10.7" height="10.7" fill="#00004a"/>
<rect x="452.15" y="366.85" width="10.7" height="10.7" fill="#00004a"/>
<rect x="384.55" y="389.45" width="10.7" height="10.7" fill="#00004a"/>
<rect x="393.05" y="389.45" width="10.7" height="10.7" fill="#00004a"/>
<rect x="399.35" y="386.25" width="10.7" height="10.7" fill="#00004a"/>
<rect x="456.85" y="386.25" width="10.7" height="10.7" fill="#00004a"/>
<circle cx="469.2" cy="362.9" r="5.35" fill="#00004a"/>
<circle cx="507.7" cy="303" r="5.35" fill="#00004a"/>
<circle cx="482.3" cy="306.1" r="5.35" fill="#00004a"/>
<circle cx="527.9" cy="312.3" r="5.35" fill="#00004a"/>
<rect x="536.05" y="307.75" width="10.7" height="10.7" fill="#00004a"/>
<circle cx="541.4" cy="308.4" r="5.35" fill="#00004a"/>
<circle cx="488.7" cy="316.2" r="5.35" fill="#00004a"/>
<rect x="552.85" y="314.75" width="10.7" height="10.7" fill="#00004a"/>
<circle cx="494.4" cy="326.3" r="5.35" fill="#00004a"/>
<rect x="498.45" y="323.35" width="10.7" height="10.7" fill="#00004a"/>
<rect x="530.35" y="321.75" width="10.7" height="10.7" fill="#00004a"/>
<circle cx="527.9" cy="334.1" r="5.35" fill="#00004a"/>
<rect x="531.85" y="333.45" width="10.7" height="10.7" fill="#00004a"/>
<rect x="550.55" y="327.15" width="10.7" height="10.7" fill="#00004a"/>
<circle cx="527.9" cy="345.8" r="5.35" fill="#00004a"/>
<circle cx="545.8" cy="348.1" r="5.35" fill="#00004a"/>
<circle cx="553.2" cy="353.2" r="5.35" fill="#00004a"/>
<rect x="479.75" y="342.45" width="10.7" height="10.7" fill="#00004a"/>
<rect x="518.65" y="353.65" width="10.7" height="10.7" fill="#00004a"/>
<circle cx="475.8" cy="357.4" r="5.35" fill="#00004a"/>
<rect x="467.35" y="360.65" width="10.7" height="10.7" fill="#00004a"/>
<rect x="477.45" y="359.85" width="10.7" height="10.7" fill="#00004a"/>
<rect x="487.55" y="362.95" width="10.7" height="10.7" fill="#00004a"/>
<rect x="474.35" y="366.05" width="10.7" height="10.7" fill="#00004a"/>
<rect x="482.85" y="365.25" width="10.7" height="10.7" fill="#00004a"/>
<rect x="566.85" y="352.85" width="10.7" height="10.7" fill="#00004a"/>
<circle cx="572.2" cy="368.3" r="5.35" fill="#00004a"/>
<rect x="553.65" y="378.55" width="10.7" height="10.7" fill="#00004a"/>
<rect x="489.05" y="387.05" width="10.7" height="10.7" fill="#00004a"/>
<circle cx="497" cy="394" r="5.35" fill="#00004a"/>
<rect x="527.95" y="382.45" width="10.7" height="10.7" fill="#00004a"/>
<rect x="518.65" y="389.45" width="10.7" height="10.7" fill="#00004a"/>
<rect x="527.95" y="389.45" width="10.7" height="10.7" fill="#00004a"/>
<rect x="537.35" y="389.45" width="10.7" height="10.7" fill="#00004a"/>
<circle cx="613" cy="301.4" r="5.35" fill="#00004a"/>
<circle cx="577.5" cy="302" r="5.35" fill="#00004a"/>
<circle cx="577.5" cy="320" r="5.35" fill="#00004a"/>
<rect x="585.85" y="320.95" width="10.7" height="10.7" fill="#00004a"/>
<circle cx="593.6" cy="332.5" r="5.35" fill="#00004a"/>
<circle cx="605.2" cy="330.2" r="5.35" fill="#00004a"/>
<circle cx="614.2" cy="321.2" r="5.35" fill="#00004a"/>
<circle cx="585" cy="345.8" r="5.35" fill="#00004a"/>
<circle cx="579.6" cy="359" r="5.35" fill="#00004a"/>
<circle cx="595.1" cy="367.9" r="5.35" fill="#00004a"/>
<rect x="639.25" y="333.45" width="10.7" height="10.7" fill="#00004a"/>
<rect x="678.45" y="331.35" width="10.7" height="10.7" fill="#00004a"/>
<rect x="623.95" y="359.05" width="10.7" height="10.7" fill="#00004a"/>
<rect x="628.95" y="379.25" width="10.7" height="10.7" fill="#00004a"/>
<circle cx="646.1" cy="392.4" r="5.35" fill="#00004a"/>
<circle cx="579.5" cy="378.4" r="5.35" fill="#00004a"/>
<rect x="575.75" y="383.95" width="10.7" height="10.7" fill="#00004a"/>
<rect x="589.65" y="389.45" width="10.7" height="10.7" fill="#00004a"/>
<rect x="596.15" y="389.45" width="10.7" height="10.7" fill="#00004a"/>
<circle cx="577" cy="394" r="5.35" fill="#00004a"/>
<rect x="362.55" y="204.95" width="9.5" height="9.5" fill="#00009a"/>
<circle cx="442.8" cy="208.4" r="4.75" fill="#00009a"/>
<circle cx="450.8" cy="204.6" r="4.75" fill="#00009a"/>
<circle cx="398.7" cy="226.3" r="4.75" fill="#00009a"/>
<circle cx="416" cy="222.4" r="4.75" fill="#00009a"/>
<circle cx="450.5" cy="221.2" r="4.75" fill="#00009a"/>
<circle cx="468.4" cy="232.5" r="4.75" fill="#00009a"/>
<rect x="439.55" y="233.25" width="9.5" height="9.5" fill="#00009a"/>
<circle cx="449" cy="238" r="4.75" fill="#00009a"/>
<rect x="397.55" y="236.65" width="9.5" height="9.5" fill="#00009a"/>
<circle cx="410.1" cy="246.5" r="4.75" fill="#00009a"/>
<circle cx="430.3" cy="250.1" r="4.75" fill="#00009a"/>
<circle cx="426" cy="256.7" r="4.75" fill="#00009a"/>
<rect x="435.65" y="248.35" width="9.5" height="9.5" fill="#00009a"/>
<circle cx="459.4" cy="262.6" r="4.75" fill="#00009a"/>
<circle cx="469.2" cy="260.5" r="4.75" fill="#00009a"/>
<rect x="427.85" y="262.05" width="9.5" height="9.5" fill="#00009a"/>
<rect x="432.05" y="268.25" width="9.5" height="9.5" fill="#00009a"/>
<circle cx="459.4" cy="276.1" r="4.75" fill="#00009a"/>
<circle cx="398.7" cy="273" r="4.75" fill="#00009a"/>
<rect x="409.25" y="277.55" width="9.5" height="9.5" fill="#00009a"/>
<circle cx="420.2" cy="285.9" r="4.75" fill="#00009a"/>
<rect x="364.15" y="277.55" width="9.5" height="9.5" fill="#00009a"/>
<circle cx="379.8" cy="283.4" r="4.75" fill="#00009a"/>
<rect x="364.15" y="289.25" width="9.5" height="9.5" fill="#00009a"/>
<rect x="375.85" y="288.45" width="9.5" height="9.5" fill="#00009a"/>
<circle cx="445.1" cy="292.1" r="4.75" fill="#00009a"/>
<rect x="449.65" y="291.55" width="9.5" height="9.5" fill="#00009a"/>
<rect x="418.55" y="293.15" width="9.5" height="9.5" fill="#00009a"/>
<circle cx="501.9" cy="204.6" r="4.75" fill="#00009a"/>
<circle cx="492.1" cy="211.1" r="4.75" fill="#00009a"/>
<circle cx="513.9" cy="211.1" r="4.75" fill="#00009a"/>
<rect x="539.95" y="199.85" width="9.5" height="9.5" fill="#00009a"/>
<circle cx="504.1" cy="224.8" r="4.75" fill="#00009a"/>
<circle cx="494.4" cy="228.7" r="4.75" fill="#00009a"/>
<rect x="510.65" y="223.95" width="9.5" height="9.5" fill="#00009a"/>
<rect x="497.45" y="231.95" width="9.5" height="9.5" fill="#00009a"/>
<circle cx="493.7" cy="240.3" r="4.75" fill="#00009a"/>
<circle cx="523.2" cy="237.7" r="4.75" fill="#00009a"/>
<rect x="513.05" y="230.95" width="9.5" height="9.5" fill="#00009a"/>
<circle cx="516.5" cy="248.6" r="4.75" fill="#00009a"/>
<rect x="562.45" y="217.65" width="9.5" height="9.5" fill="#00009a"/>
<rect x="547.25" y="237.95" width="9.5" height="9.5" fill="#00009a"/>
<rect x="562.45" y="241.75" width="9.5" height="9.5" fill="#00009a"/>
<rect x="472.55" y="252.65" width="9.5" height="9.5" fill="#00009a"/>
<rect x="482.65" y="251.95" width="9.5" height="9.5" fill="#00009a"/>
<circle cx="473.4" cy="260.5" r="4.75" fill="#00009a"/>
<rect x="541.05" y="262.05" width="9.5" height="9.5" fill="#00009a"/>
<rect x="551.85" y="257.35" width="9.5" height="9.5" fill="#00009a"/>
<rect x="546.45" y="267.45" width="9.5" height="9.5" fill="#00009a"/>
<circle cx="570.6" cy="293.2" r="4.75" fill="#00009a"/>
<circle cx="495.2" cy="297.1" r="4.75" fill="#00009a"/>
<circle cx="585" cy="206.6" r="4.75" fill="#00009a"/>
<rect x="622.25" y="230.15" width="9.5" height="9.5" fill="#00009a"/>
<circle cx="675.2" cy="240.3" r="4.75" fill="#00009a"/>
<rect x="575.75" y="249.95" width="9.5" height="9.5" fill="#00009a"/>
<circle cx="585" cy="259.8" r="4.75" fill="#00009a"/>
<rect x="606.65" y="255.75" width="9.5" height="9.5" fill="#00009a"/>
<rect x="646.05" y="262.05" width="9.5" height="9.5" fill="#00009a"/>
<rect x="574.75" y="271.25" width="9.5" height="9.5" fill="#00009a"/>
<rect x="585.35" y="281.45" width="9.5" height="9.5" fill="#00009a"/>
<rect x="642.45" y="285.35" width="9.5" height="9.5" fill="#00009a"/>
<circle cx="613" cy="295.5" r="4.75" fill="#00009a"/>
<rect x="362.55" y="297.45" width="9.5" height="9.5" fill="#00009a"/>
<circle cx="375.9" cy="306.1" r="4.75" fill="#00009a"/>
<rect x="362.55" y="313.85" width="9.5" height="9.5" fill="#00009a"/>
<rect x="373.45" y="314.55" width="9.5" height="9.5" fill="#00009a"/>
<rect x="362.55" y="326.25" width="9.5" height="9.5" fill="#00009a"/>
<rect x="371.95" y="325.45" width="9.5" height="9.5" fill="#00009a"/>
<circle cx="370.4" cy="339.5" r="4.75" fill="#00009a"/>
<rect x="414.65" y="295.95" width="9.5" height="9.5" fill="#00009a"/>
<circle cx="426.4" cy="300.7" r="4.75" fill="#00009a"/>
<rect x="448.15" y="294.35" width="9.5" height="9.5" fill="#00009a"/>
<circle cx="411.2" cy="306.1" r="4.75" fill="#00009a"/>
<rect x="390.55" y="319.25" width="9.5" height="9.5" fill="#00009a"/>
<circle cx="406.2" cy="324" r="4.75" fill="#00009a"/>
<rect x="385.95" y="332.45" width="9.5" height="9.5" fill="#00009a"/>
<rect x="394.45" y="330.95" width="9.5" height="9.5" fill="#00009a"/>
<rect x="390.55" y="341.05" width="9.5" height="9.5" fill="#00009a"/>
<rect x="399.15" y="342.55" width="9.5" height="9.5" fill="#00009a"/>
<rect x="402.75" y="351.95" width="9.5" height="9.5" fill="#00009a"/>
<circle cx="418.7" cy="331.8" r="4.75" fill="#00009a"/>
<circle cx="414.8" cy="337.2" r="4.75" fill="#00009a"/>
<circle cx="414" cy="342.7" r="4.75" fill="#00009a"/>
<rect x="429.45" y="337.95" width="9.5" height="9.5" fill="#00009a"/>
<circle cx="443.5" cy="344.2" r="4.75" fill="#00009a"/>
<rect x="431.05" y="332.45" width="9.5" height="9.5" fill="#00009a"/>
<circle cx="444" cy="326" r="4.75" fill="#00009a"/>
<circle cx="467.6" cy="324" r="4.75" fill="#00009a"/>
<circle cx="463.8" cy="334.9" r="4.75" fill="#00009a"/>
<rect x="457.45" y="336.35" width="9.5" height="9.5" fill="#00009a"/>
<rect x="382.75" y="359.65" width="9.5" height="9.5" fill="#00009a"/>
<rect x="374.25" y="370.55" width="9.5" height="9.5" fill="#00009a"/>
<rect x="406.95" y="369.75" width="9.5" height="9.5" fill="#00009a"/>
<rect x="414.65" y="379.15" width="9.5" height="9.5" fill="#00009a"/>
<rect x="424.75" y="382.25" width="9.5" height="9.5" fill="#00009a"/>
<rect x="438.75" y="359.65" width="9.5" height="9.5" fill="#00009a"/>
<rect x="435.65" y="369.05" width="9.5" height="9.5" fill="#00009a"/>
<rect x="443.45" y="370.55" width="9.5" height="9.5" fill="#00009a"/>
<rect x="452.75" y="367.45" width="9.5" height="9.5" fill="#00009a"/>
<rect x="385.15" y="390.05" width="9.5" height="9.5" fill="#00009a"/>
<rect x="393.65" y="390.05" width="9.5" height="9.5" fill="#00009a"/>
<rect x="399.95" y="386.85" width="9.5" height="9.5" fill="#00009a"/>
<rect x="457.45" y="386.85" width="9.5" height="9.5" fill="#00009a"/>
<circle cx="469.2" cy="362.9" r="4.75" fill="#00009a"/>
<circle cx="507.7" cy="303" r="4.75" fill="#00009a"/>
<circle cx="482.3" cy="306.1" r="4.75" fill="#00009a"/>
<circle cx="527.9" cy="312.3" r="4.75" fill="#00009a"/>
<rect x="536.65" y="308.35" width="9.5" height="9.5" fill="#00009a"/>
<circle cx="541.4" cy="308.4" r="4.75" fill="#00009a"/>
<circle cx="488.7" cy="316.2" r="4.75" fill="#00009a"/>
<rect x="553.45" y="315.35" width="9.5" height="9.5" fill="#00009a"/>
<circle cx="494.4" cy="326.3" r="4.75" fill="#00009a"/>
<rect x="499.05" y="323.95" width="9.5" height="9.5" fill="#00009a"/>
<rect x="530.95" y="322.35" width="9.5" height="9.5" fill="#00009a"/>
<circle cx="527.9" cy="334.1" r="4.75" fill="#00009a"/>
<rect x="532.45" y="334.05" width="9.5" height="9.5" fill="#00009a"/>
<rect x="551.15" y="327.75" width="9.5" height="9.5" fill="#00009a"/>
<circle cx="527.9" cy="345.8" r="4.75" fill="#00009a"/>
<circle cx="545.8" cy="348.1" r="4.75" fill="#00009a"/>
<circle cx="553.2" cy="353.2" r="4.75" fill="#00009a"/>
<rect x="480.35" y="343.05" width="9.5" height="9.5" fill="#00009a"/>
<rect x="519.25" y="354.25" width="9.5" height="9.5" fill="#00009a"/>
<circle cx="475.8" cy="357.4" r="4.75" fill="#00009a"/>
<rect x="467.95" y="361.25" width="9.5" height="9.5" fill="#00009a"/>
<rect x="478.05" y="360.45" width="9.5" height="9.5" fill="#00009a"/>
<rect x="488.15" y="363.55" width="9.5" height="9.5" fill="#00009a"/>
<rect x="474.95" y="366.65" width="9.5" height="9.5" fill="#00009a"/>
<rect x="483.45" y="365.85" width="9.5" height="9.5" fill="#00009a"/>
<rect x="567.45" y="353.45" width="9.5" height="9.5" fill="#00009a"/>
<circle cx="572.2" cy="368.3" r="4.75" fill="#00009a"/>
<rect x="554.25" y="379.15" width="9.5" height="9.5" fill="#00009a"/>
<rect x="489.65" y="387.65" width="9.5" height="9.5" fill="#00009a"/>
<circle cx="497" cy="394" r="4.75" fill="#00009a"/>
<rect x="528.55" y="383.05" width="9.5" height="9.5" fill="#00009a"/>
<rect x="519.25" y="390.05" width="9.5" height="9.5" fill="#00009a"/>
<rect x="528.55" y="390.05" width="9.5" height="9.5" fill="#00009a"/>
<rect x="537.95" y="390.05" width="9.5" height="9.5" fill="#00009a"/>
<circle cx="613" cy="301.4" r="4.75" fill="#00009a"/>
<circle cx="577.5" cy="302" r="4.75" fill="#00009a"/>
<circle cx="577.5" cy="320" r="4.75" fill="#00009a"/>
<rect x="586.45" y="321.55" width="9.5" height="9.5" fill="#00009a"/>
<circle cx="593.6" cy="332.5" r="4.75" fill="#00009a"/>
<circle cx="605.2" cy="330.2" r="4.75" fill="#00009a"/>
<circle cx="614.2" cy="321.2" r="4.75" fill="#00009a"/>
<circle cx="585" cy="345.8" r="4.75" fill="#00009a"/>
<circle cx="579.6" cy="359" r="4.75" fill="#00009a"/>
<circle cx="595.1" cy="367.9" r="4.75" fill="#00009a"/>
<rect x="639.85" y="334.05" width="9.5" height="9.5" fill="#00009a"/>
<rect x="679.05" y="331.95" width="9.5" height="9.5" fill="#00009a"/>
<rect x="624.55" y="359.65" width="9.5" height="9.5" fill="#00009a"/>
<rect x="629.55" y="379.85" width="9.5" height="9.5" fill="#00009a"/>
<circle cx="646.1" cy="392.4" r="4.75" fill="#00009a"/>
<circle cx="579.5" cy="378.4" r="4.75" fill="#00009a"/>
<rect x="576.35" y="384.55" width="9.5" height="9.5" fill="#00009a"/>
<rect x="590.25" y="390.05" width="9.5" height="9.5" fill="#00009a"/>
<rect x="596.75" y="390.05" width="9.5" height="9.5" fill="#00009a"/>
<circle cx="577" cy="394" r="4.75" fill="#00009a"/>
</g>
<g>
<text transform="translate(372.8 233.4) rotate(-90)" text-anchor="middle" font-size="8.7" font-weight="bold" textLength="41.5" lengthAdjust="spacingAndGlyphs" fill="#343434">SINISTRA</text>
<text transform="translate(372.8 300.4) rotate(-90)" text-anchor="middle" font-size="8.7" font-weight="bold" textLength="36.5" lengthAdjust="spacingAndGlyphs" fill="#343434">CENTRO</text>
<text transform="translate(372.8 362.4) rotate(-90)" text-anchor="middle" font-size="8.7" font-weight="bold" textLength="35.5" lengthAdjust="spacingAndGlyphs" fill="#343434">DESTRA</text>
<rect x="362" y="265.4" width="9.8" height="1.8" fill="#2a2a2a"/>
<rect x="362" y="331.3" width="9.8" height="1.8" fill="#2a2a2a"/>
<text transform="translate(389.5 232.4) rotate(-90)" text-anchor="middle" font-size="10" font-weight="bold" fill="#343434">24</text>
<text transform="translate(389.5 298.4) rotate(-90)" text-anchor="middle" font-size="10" font-weight="bold" fill="#343434">31</text>
<text transform="translate(389.5 364.4) rotate(-90)" text-anchor="middle" font-size="10" font-weight="bold" fill="#343434">45</text>
<text x="370.7" y="390.9" font-size="15" font-weight="bold" fill="#343434">%</text>
</g>
<clipPath id="c01"><rect x="359.1" y="197.4" width="329.6" height="200.5"/></clipPath>
<rect x="23.5" y="437.1" width="666" height="26.8" rx="0.8" fill="#dedede" stroke="#a4a4a4" stroke-width="1"/>
<text x="356.7" y="456.7" text-anchor="middle" font-size="17" font-weight="bold" letter-spacing="0.3" fill="#000" stroke="#000" stroke-width="0.25">FALLI COMMESSI</text>
<rect x="23.5" y="469.1" width="330.6" height="204.5" fill="#fff" stroke="#a8a8a8" stroke-width="1"/>
<rect x="29.4" y="474.9" width="320" height="193.4" fill="#abdea2"/>
<line x1="189.4" y1="474.9" x2="189.4" y2="668.3" fill="none" stroke="#ffffff" stroke-width="2"/>
<circle cx="189.4" cy="571.6" r="26.5" fill="none" stroke="#ffffff" stroke-width="2"/>
<circle cx="189.4" cy="571.6" r="2" fill="#ffffff"/>
<path d="M29.4 518.2H75.3V625H29.4" fill="none" stroke="#ffffff" stroke-width="2"/>
<path d="M29.4 545.8H43.8V597.4H29.4" fill="none" stroke="#ffffff" stroke-width="2"/>
<circle cx="60.4" cy="571.6" r="2" fill="#ffffff"/>
<path d="M75.3 550.29A26.0 26.0 0 0 1 75.3 592.91" fill="none" stroke="#ffffff" stroke-width="2"/>
<path d="M349.4 518.2H303.5V625H349.4" fill="none" stroke="#ffffff" stroke-width="2"/>
<path d="M349.4 545.8H335V597.4H349.4" fill="none" stroke="#ffffff" stroke-width="2"/>
<circle cx="318.4" cy="571.6" r="2" fill="#ffffff"/>
<path d="M303.5 550.29A26.0 26.0 0 0 0 303.5 592.91" fill="none" stroke="#ffffff" stroke-width="2"/>
<path d="M40.9 474.9A11.5 11.5 0 0 1 29.4 486.4" fill="none" stroke="#ffffff" stroke-width="2"/>
<path d="M337.9 474.9A11.5 11.5 0 0 0 349.4 486.4" fill="none" stroke="#ffffff" stroke-width="2"/>
<path d="M29.4 656.8A11.5 11.5 0 0 1 40.9 668.3" fill="none" stroke="#ffffff" stroke-width="2"/>
<path d="M349.4 656.8A11.5 11.5 0 0 0 337.9 668.3" fill="none" stroke="#ffffff" stroke-width="2"/>
<rect x="27.2" y="559.9" width="2.6" height="23.4" fill="#111"/>
<rect x="349" y="559.9" width="2.6" height="23.4" fill="#111"/>
<rect x="29.4" y="484.35" width="9.2" height="42.5" fill="#abdea2"/>
<rect x="29.4" y="553.85" width="9.2" height="37.5" fill="#abdea2"/>
<rect x="29.4" y="616.35" width="9.2" height="36.5" fill="#abdea2"/>
<text x="342.9" y="486.2" text-anchor="end" font-size="11.4" font-weight="bold" letter-spacing="0.6" word-spacing="4.5" fill="#142414">©Panini Digital</text>
<g opacity="0.9">
<text x="82.9" y="650.6" text-anchor="middle" font-size="11" font-weight="bold" letter-spacing="2.4" fill="#000000">14</text>
<text x="190.6" y="650.6" text-anchor="middle" font-size="11" font-weight="bold" letter-spacing="2.4" fill="#000000">29</text>
<text x="298.3" y="650.6" text-anchor="middle" font-size="11" font-weight="bold" letter-spacing="2.4" fill="#000000">57</text>
<text x="81.7" y="664.3" text-anchor="middle" font-size="8.8" font-weight="bold" fill="#000000">DIFESA</text>
<text x="189.4" y="664.3" text-anchor="middle" font-size="8.8" font-weight="bold" fill="#000000">CENTROCAMPO</text>
<text x="297.1" y="664.3" text-anchor="middle" font-size="8.8" font-weight="bold" fill="#000000">ATTACCO</text>
<rect x="134.6" y="660.5" width="1.6" height="10" fill="#222"/>
<rect x="241.8" y="660.5" width="1.6" height="10" fill="#222"/>
</g>
<g clip-path="url(#c10)" opacity="0.94">
<circle cx="135.86" cy="514.04" r="5.35" fill="#a80000"/>
<circle cx="186.39" cy="528.92" r="5.35" fill="#a80000"/>
<rect x="109.02" y="577.16" width="10.7" height="10.7" fill="#a80000"/>
<circle cx="109.18" cy="615.1" r="5.35" fill="#a80000"/>
<rect x="261.09" y="478.23" width="10.7" height="10.7" fill="#a80000"/>
<circle cx="278.01" cy="488.78" r="5.35" fill="#a80000"/>
<rect x="291.79" y="481.07" width="10.7" height="10.7" fill="#a80000"/>
<rect x="285.18" y="496.18" width="10.7" height="10.7" fill="#a80000"/>
<rect x="282.58" y="511.05" width="10.7" height="10.7" fill="#a80000"/>
<rect x="215.76" y="538.68" width="10.7" height="10.7" fill="#a80000"/>
<circle cx="320.99" cy="554.65" r="5.35" fill="#a80000"/>
<rect x="263.93" y="578.34" width="10.7" height="10.7" fill="#a80000"/>
<circle cx="338.69" cy="589.83" r="5.35" fill="#a80000"/>
<circle cx="224.65" cy="634.22" r="5.35" fill="#a80000"/>
<circle cx="135.86" cy="514.04" r="4.75" fill="#ec0000"/>
<circle cx="186.39" cy="528.92" r="4.75" fill="#ec0000"/>
<rect x="109.62" y="577.76" width="9.5" height="9.5" fill="#ec0000"/>
<circle cx="109.18" cy="615.1" r="4.75" fill="#ec0000"/>
<rect x="261.69" y="478.83" width="9.5" height="9.5" fill="#ec0000"/>
<circle cx="278.01" cy="488.78" r="4.75" fill="#ec0000"/>
<rect x="292.39" y="481.67" width="9.5" height="9.5" fill="#ec0000"/>
<rect x="285.78" y="496.78" width="9.5" height="9.5" fill="#ec0000"/>
<rect x="283.18" y="511.65" width="9.5" height="9.5" fill="#ec0000"/>
<rect x="216.36" y="539.28" width="9.5" height="9.5" fill="#ec0000"/>
<circle cx="320.99" cy="554.65" r="4.75" fill="#ec0000"/>
<rect x="264.53" y="578.94" width="9.5" height="9.5" fill="#ec0000"/>
<circle cx="338.69" cy="589.83" r="4.75" fill="#ec0000"/>
<circle cx="224.65" cy="634.22" r="4.75" fill="#ec0000"/>
</g>
<g>
<text transform="translate(38 505.6) rotate(-90)" text-anchor="middle" font-size="8.7" font-weight="bold" textLength="41.5" lengthAdjust="spacingAndGlyphs" fill="#343434">SINISTRA</text>
<text transform="translate(38 572.6) rotate(-90)" text-anchor="middle" font-size="8.7" font-weight="bold" textLength="36.5" lengthAdjust="spacingAndGlyphs" fill="#343434">CENTRO</text>
<text transform="translate(38 634.6) rotate(-90)" text-anchor="middle" font-size="8.7" font-weight="bold" textLength="35.5" lengthAdjust="spacingAndGlyphs" fill="#343434">DESTRA</text>
<rect x="27.2" y="537.6" width="9.8" height="1.8" fill="#2a2a2a"/>
<rect x="27.2" y="603.5" width="9.8" height="1.8" fill="#2a2a2a"/>
<text transform="translate(54.7 504.6) rotate(-90)" text-anchor="middle" font-size="10" font-weight="bold" fill="#343434">50</text>
<text transform="translate(54.7 570.6) rotate(-90)" text-anchor="middle" font-size="10" font-weight="bold" fill="#343434">36</text>
<text transform="translate(54.7 636.6) rotate(-90)" text-anchor="middle" font-size="10" font-weight="bold" fill="#343434">14</text>
<text x="35.9" y="663.1" font-size="15" font-weight="bold" fill="#343434">%</text>
</g>
<clipPath id="c10"><rect x="24" y="469.6" width="329.6" height="200.5"/></clipPath>
<rect x="358.6" y="469.1" width="330.6" height="204.5" fill="#fff" stroke="#a8a8a8" stroke-width="1"/>
<rect x="364.2" y="474.9" width="320" height="193.4" fill="#abdea2"/>
<line x1="524.2" y1="474.9" x2="524.2" y2="668.3" fill="none" stroke="#ffffff" stroke-width="2"/>
<circle cx="524.2" cy="571.6" r="26.5" fill="none" stroke="#ffffff" stroke-width="2"/>
<circle cx="524.2" cy="571.6" r="2" fill="#ffffff"/>
<path d="M364.2 518.2H410.1V625H364.2" fill="none" stroke="#ffffff" stroke-width="2"/>
<path d="M364.2 545.8H378.6V597.4H364.2" fill="none" stroke="#ffffff" stroke-width="2"/>
<circle cx="395.2" cy="571.6" r="2" fill="#ffffff"/>
<path d="M410.1 550.29A26.0 26.0 0 0 1 410.1 592.91" fill="none" stroke="#ffffff" stroke-width="2"/>
<path d="M684.2 518.2H638.3V625H684.2" fill="none" stroke="#ffffff" stroke-width="2"/>
<path d="M684.2 545.8H669.8V597.4H684.2" fill="none" stroke="#ffffff" stroke-width="2"/>
<circle cx="653.2" cy="571.6" r="2" fill="#ffffff"/>
<path d="M638.3 550.29A26.0 26.0 0 0 0 638.3 592.91" fill="none" stroke="#ffffff" stroke-width="2"/>
<path d="M375.7 474.9A11.5 11.5 0 0 1 364.2 486.4" fill="none" stroke="#ffffff" stroke-width="2"/>
<path d="M672.7 474.9A11.5 11.5 0 0 0 684.2 486.4" fill="none" stroke="#ffffff" stroke-width="2"/>
<path d="M364.2 656.8A11.5 11.5 0 0 1 375.7 668.3" fill="none" stroke="#ffffff" stroke-width="2"/>
<path d="M684.2 656.8A11.5 11.5 0 0 0 672.7 668.3" fill="none" stroke="#ffffff" stroke-width="2"/>
<rect x="362" y="559.9" width="2.6" height="23.4" fill="#111"/>
<rect x="683.8" y="559.9" width="2.6" height="23.4" fill="#111"/>
<rect x="364.2" y="484.35" width="9.2" height="42.5" fill="#abdea2"/>
<rect x="364.2" y="553.85" width="9.2" height="37.5" fill="#abdea2"/>
<rect x="364.2" y="616.35" width="9.2" height="36.5" fill="#abdea2"/>
<text x="677.7" y="486.2" text-anchor="end" font-size="11.4" font-weight="bold" letter-spacing="0.6" word-spacing="4.5" fill="#142414">©Panini Digital</text>
<g opacity="0.9">
<text x="417.7" y="650.6" text-anchor="middle" font-size="11" font-weight="bold" letter-spacing="2.4" fill="#000000">29</text>
<text x="525.4" y="650.6" text-anchor="middle" font-size="11" font-weight="bold" letter-spacing="2.4" fill="#000000">42</text>
<text x="633.1" y="650.6" text-anchor="middle" font-size="11" font-weight="bold" letter-spacing="2.4" fill="#000000">29</text>
<text x="416.5" y="664.3" text-anchor="middle" font-size="8.8" font-weight="bold" fill="#000000">DIFESA</text>
<text x="524.2" y="664.3" text-anchor="middle" font-size="8.8" font-weight="bold" fill="#000000">CENTROCAMPO</text>
<text x="631.9" y="664.3" text-anchor="middle" font-size="8.8" font-weight="bold" fill="#000000">ATTACCO</text>
<rect x="469.4" y="660.5" width="1.6" height="10" fill="#222"/>
<rect x="576.6" y="660.5" width="1.6" height="10" fill="#222"/>
</g>
<g clip-path="url(#c11)" opacity="0.94">
<rect x="433.87" y="583.3" width="10.7" height="10.7" fill="#00004a"/>
<rect x="505.89" y="599.12" width="10.7" height="10.7" fill="#00004a"/>
<rect x="396.8" y="614.23" width="10.7" height="10.7" fill="#00004a"/>
<circle cx="399.79" cy="626.67" r="5.35" fill="#00004a"/>
<rect x="438.83" y="626.51" width="10.7" height="10.7" fill="#00004a"/>
<circle cx="498.72" cy="645.56" r="5.35" fill="#00004a"/>
<rect x="501.64" y="656.26" width="10.7" height="10.7" fill="#00004a"/>
<rect x="497.15" y="661.46" width="10.7" height="10.7" fill="#00004a"/>
<rect x="380.75" y="662.4" width="10.7" height="10.7" fill="#00004a"/>
<circle cx="549.5" cy="506.96" r="5.35" fill="#00004a"/>
<rect x="527.62" y="537.5" width="10.7" height="10.7" fill="#00004a"/>
<circle cx="582.56" cy="574.72" r="5.35" fill="#00004a"/>
<rect x="570.83" y="581.89" width="10.7" height="10.7" fill="#00004a"/>
<rect x="589.96" y="607.39" width="10.7" height="10.7" fill="#00004a"/>
<rect x="674.96" y="617.54" width="10.7" height="10.7" fill="#00004a"/>
<circle cx="546.9" cy="648.15" r="5.35" fill="#00004a"/>
<rect x="636.71" y="659.8" width="10.7" height="10.7" fill="#00004a"/>
<rect x="434.47" y="583.9" width="9.5" height="9.5" fill="#00009a"/>
<rect x="506.49" y="599.72" width="9.5" height="9.5" fill="#00009a"/>
<rect x="397.4" y="614.83" width="9.5" height="9.5" fill="#00009a"/>
<circle cx="399.79" cy="626.67" r="4.75" fill="#00009a"/>
<rect x="439.43" y="627.11" width="9.5" height="9.5" fill="#00009a"/>
<circle cx="498.72" cy="645.56" r="4.75" fill="#00009a"/>
<rect x="502.24" y="656.86" width="9.5" height="9.5" fill="#00009a"/>
<rect x="497.75" y="662.06" width="9.5" height="9.5" fill="#00009a"/>
<rect x="381.35" y="663" width="9.5" height="9.5" fill="#00009a"/>
<circle cx="549.5" cy="506.96" r="4.75" fill="#00009a"/>
<rect x="528.22" y="538.1" width="9.5" height="9.5" fill="#00009a"/>
<circle cx="582.56" cy="574.72" r="4.75" fill="#00009a"/>
<rect x="571.43" y="582.49" width="9.5" height="9.5" fill="#00009a"/>
<rect x="590.56" y="607.99" width="9.5" height="9.5" fill="#00009a"/>
<rect x="675.56" y="618.14" width="9.5" height="9.5" fill="#00009a"/>
<circle cx="546.9" cy="648.15" r="4.75" fill="#00009a"/>
<rect x="637.31" y="660.4" width="9.5" height="9.5" fill="#00009a"/>
</g>
<g>
<text transform="translate(372.8 505.6) rotate(-90)" text-anchor="middle" font-size="8.7" font-weight="bold" textLength="41.5" lengthAdjust="spacingAndGlyphs" fill="#343434">SINISTRA</text>
<text transform="translate(372.8 572.6) rotate(-90)" text-anchor="middle" font-size="8.7" font-weight="bold" textLength="36.5" lengthAdjust="spacingAndGlyphs" fill="#343434">CENTRO</text>
<text transform="translate(372.8 634.6) rotate(-90)" text-anchor="middle" font-size="8.7" font-weight="bold" textLength="35.5" lengthAdjust="spacingAndGlyphs" fill="#343434">DESTRA</text>
<rect x="362" y="537.6" width="9.8" height="1.8" fill="#2a2a2a"/>
<rect x="362" y="603.5" width="9.8" height="1.8" fill="#2a2a2a"/>
<text transform="translate(389.5 504.6) rotate(-90)" text-anchor="middle" font-size="10" font-weight="bold" fill="#343434">6</text>
<text transform="translate(389.5 570.6) rotate(-90)" text-anchor="middle" font-size="10" font-weight="bold" fill="#343434">23</text>
<text transform="translate(389.5 636.6) rotate(-90)" text-anchor="middle" font-size="10" font-weight="bold" fill="#343434">71</text>
<text x="370.7" y="663.1" font-size="15" font-weight="bold" fill="#343434">%</text>
</g>
<clipPath id="c11"><rect x="359.1" y="469.6" width="329.6" height="200.5"/></clipPath>
<rect x="23.5" y="709.3" width="666" height="26.8" rx="0.8" fill="#dedede" stroke="#a4a4a4" stroke-width="1"/>
<text x="356.7" y="728.9" text-anchor="middle" font-size="17" font-weight="bold" letter-spacing="0.3" fill="#000" stroke="#000" stroke-width="0.25">GIOCATE UTILI</text>
<rect x="23.5" y="741.3" width="330.6" height="204.5" fill="#fff" stroke="#a8a8a8" stroke-width="1"/>
<rect x="29.4" y="747.1" width="320" height="193.4" fill="#abdea2"/>
<line x1="189.4" y1="747.1" x2="189.4" y2="940.5" fill="none" stroke="#ffffff" stroke-width="2"/>
<circle cx="189.4" cy="843.8" r="26.5" fill="none" stroke="#ffffff" stroke-width="2"/>
<circle cx="189.4" cy="843.8" r="2" fill="#ffffff"/>
<path d="M29.4 790.4H75.3V897.2H29.4" fill="none" stroke="#ffffff" stroke-width="2"/>
<path d="M29.4 818H43.8V869.6H29.4" fill="none" stroke="#ffffff" stroke-width="2"/>
<circle cx="60.4" cy="843.8" r="2" fill="#ffffff"/>
<path d="M75.3 822.49A26.0 26.0 0 0 1 75.3 865.11" fill="none" stroke="#ffffff" stroke-width="2"/>
<path d="M349.4 790.4H303.5V897.2H349.4" fill="none" stroke="#ffffff" stroke-width="2"/>
<path d="M349.4 818H335V869.6H349.4" fill="none" stroke="#ffffff" stroke-width="2"/>
<circle cx="318.4" cy="843.8" r="2" fill="#ffffff"/>
<path d="M303.5 822.49A26.0 26.0 0 0 0 303.5 865.11" fill="none" stroke="#ffffff" stroke-width="2"/>
<path d="M40.9 747.1A11.5 11.5 0 0 1 29.4 758.6" fill="none" stroke="#ffffff" stroke-width="2"/>
<path d="M337.9 747.1A11.5 11.5 0 0 0 349.4 758.6" fill="none" stroke="#ffffff" stroke-width="2"/>
<path d="M29.4 929A11.5 11.5 0 0 1 40.9 940.5" fill="none" stroke="#ffffff" stroke-width="2"/>
<path d="M349.4 929A11.5 11.5 0 0 0 337.9 940.5" fill="none" stroke="#ffffff" stroke-width="2"/>
<rect x="27.2" y="832.1" width="2.6" height="23.4" fill="#111"/>
<rect x="349" y="832.1" width="2.6" height="23.4" fill="#111"/>
<rect x="29.4" y="756.55" width="9.2" height="42.5" fill="#abdea2"/>
<rect x="29.4" y="826.05" width="9.2" height="37.5" fill="#abdea2"/>
<rect x="29.4" y="888.55" width="9.2" height="36.5" fill="#abdea2"/>
<text x="342.9" y="758.4" text-anchor="end" font-size="11.4" font-weight="bold" letter-spacing="0.6" word-spacing="4.5" fill="#142414">©Panini Digital</text>
<g opacity="0.9">
<text x="82.9" y="922.8" text-anchor="middle" font-size="11" font-weight="bold" letter-spacing="2.4" fill="#000000">43</text>
<text x="190.6" y="922.8" text-anchor="middle" font-size="11" font-weight="bold" letter-spacing="2.4" fill="#000000">40</text>
<text x="298.3" y="922.8" text-anchor="middle" font-size="11" font-weight="bold" letter-spacing="2.4" fill="#000000">17</text>
<text x="81.7" y="936.5" text-anchor="middle" font-size="8.8" font-weight="bold" fill="#000000">DIFESA</text>
<text x="189.4" y="936.5" text-anchor="middle" font-size="8.8" font-weight="bold" fill="#000000">CENTROCAMPO</text>
<text x="297.1" y="936.5" text-anchor="middle" font-size="8.8" font-weight="bold" fill="#000000">ATTACCO</text>
<rect x="134.6" y="932.7" width="1.6" height="10" fill="#222"/>
<rect x="241.8" y="932.7" width="1.6" height="10" fill="#222"/>
</g>
<g clip-path="url(#c20)" opacity="0.94">
<circle cx="63.51" cy="756.89" r="5.35" fill="#a80000"/>
<circle cx="94.09" cy="753.31" r="5.35" fill="#a80000"/>
<rect x="102.64" y="745.18" width="10.7" height="10.7" fill="#a80000"/>
<circle cx="113.16" cy="760.86" r="5.35" fill="#a80000"/>
<rect x="110.79" y="754.52" width="10.7" height="10.7" fill="#a80000"/>
<rect x="121.71" y="758.09" width="10.7" height="10.7" fill="#a80000"/>
<circle cx="138.38" cy="760.86" r="5.35" fill="#a80000"/>
<rect x="170.17" y="749.16" width="10.7" height="10.7" fill="#a80000"/>
<rect x="178.71" y="747.17" width="10.7" height="10.7" fill="#a80000"/>
<rect x="72.46" y="770.41" width="10.7" height="10.7" fill="#a80000"/>
<rect x="84.77" y="769.41" width="10.7" height="10.7" fill="#a80000"/>
<circle cx="96.67" cy="778.74" r="5.35" fill="#a80000"/>
<rect x="105.23" y="773.39" width="10.7" height="10.7" fill="#a80000"/>
<circle cx="113.16" cy="788.67" r="5.35" fill="#a80000"/>
<rect x="135.61" y="769.41" width="10.7" height="10.7" fill="#a80000"/>
<circle cx="147.32" cy="782.31" r="5.35" fill="#a80000"/>
<circle cx="152.28" cy="789.66" r="5.35" fill="#a80000"/>
<circle cx="158.84" cy="786.28" r="5.35" fill="#a80000"/>
<circle cx="175.12" cy="772.78" r="5.35" fill="#a80000"/>
<circle cx="172.54" cy="777.74" r="5.35" fill="#a80000"/>
<rect x="52.99" y="777.76" width="10.7" height="10.7" fill="#a80000"/>
<circle cx="69.86" cy="787.67" r="5.35" fill="#a80000"/>
<circle cx="59.53" cy="795.02" r="5.35" fill="#a80000"/>
<rect x="83.38" y="790.86" width="10.7" height="10.7" fill="#a80000"/>
<rect x="121.71" y="789.87" width="10.7" height="10.7" fill="#a80000"/>
<circle cx="45.67" cy="793.89" r="5.35" fill="#a80000"/>
<circle cx="105.4" cy="806.64" r="5.35" fill="#a80000"/>
<rect x="115.4" y="802.23" width="10.7" height="10.7" fill="#a80000"/>
<circle cx="53.22" cy="813.01" r="5.35" fill="#a80000"/>
<circle cx="106.82" cy="821.99" r="5.35" fill="#a80000"/>
<circle cx="161.36" cy="819.39" r="5.35" fill="#a80000"/>
<rect x="39.65" y="820.69" width="9.2" height="9.2" fill="#e0a0a8"/>
<rect x="153.41" y="827.73" width="10.7" height="10.7" fill="#a80000"/>
<circle cx="185.21" cy="831.9" r="5.35" fill="#a80000"/>
<rect x="121.34" y="835.09" width="9.2" height="9.2" fill="#e0a0a8"/>
<circle cx="40" cy="844.89" r="5.35" fill="#a80000"/>
<rect x="162.15" y="851.82" width="10.7" height="10.7" fill="#a80000"/>
<rect x="41.3" y="858.71" width="9.2" height="9.2" fill="#e0a0a8"/>
<circle cx="45.9" cy="870.39" r="4.6" fill="#e0a0a8"/>
<rect x="83.05" y="879.44" width="10.7" height="10.7" fill="#a80000"/>
<circle cx="92.89" cy="885.5" r="5.35" fill="#a80000"/>
<circle cx="87.22" cy="886.21" r="4.6" fill="#e0a0a8"/>
<circle cx="69.75" cy="890.22" r="5.35" fill="#a80000"/>
<circle cx="115.56" cy="891.64" r="5.35" fill="#a80000"/>
<circle cx="113.19" cy="913.36" r="5.35" fill="#a80000"/>
<rect x="44.8" y="915.57" width="10.7" height="10.7" fill="#a80000"/>
<circle cx="95.25" cy="936.97" r="5.35" fill="#a80000"/>
<circle cx="175.29" cy="934.14" r="5.35" fill="#a80000"/>
<rect x="165.22" y="934.69" width="10.7" height="10.7" fill="#a80000"/>
<rect x="212.46" y="746.27" width="10.7" height="10.7" fill="#a80000"/>
<rect x="199" y="758.08" width="10.7" height="10.7" fill="#a80000"/>
<circle cx="227.25" cy="762.25" r="5.35" fill="#a80000"/>
<circle cx="248.74" cy="763.43" r="5.35" fill="#a80000"/>
<rect x="261.33" y="767.05" width="10.7" height="10.7" fill="#a80000"/>
<rect x="286.59" y="747.93" width="10.7" height="10.7" fill="#a80000"/>
<circle cx="344.12" cy="752.81" r="4.6" fill="#e0a0a8"/>
<rect x="300.52" y="761.62" width="10.7" height="10.7" fill="#a80000"/>
<circle cx="307.06" cy="779.96" r="5.35" fill="#a80000"/>
<rect x="195.46" y="779.8" width="10.7" height="10.7" fill="#a80000"/>
<circle cx="214.5" cy="806.17" r="5.35" fill="#a80000"/>
<rect x="219.54" y="806.01" width="10.7" height="10.7" fill="#a80000"/>
<circle cx="244.96" cy="809.24" r="5.35" fill="#a80000"/>
<rect x="203.01" y="812.62" width="10.7" height="10.7" fill="#a80000"/>
<circle cx="337.51" cy="815.61" r="5.35" fill="#a80000"/>
<circle cx="204.35" cy="836.62" r="5.35" fill="#a80000"/>
<circle cx="205.53" cy="845.36" r="5.35" fill="#a80000"/>
<rect x="246.97" y="850.21" width="9.2" height="9.2" fill="#e0a0a8"/>
<rect x="206.55" y="855.59" width="10.7" height="10.7" fill="#a80000"/>
<circle cx="224.89" cy="863.07" r="5.35" fill="#a80000"/>
<rect x="233.71" y="865.51" width="10.7" height="10.7" fill="#a80000"/>
<rect x="233.71" y="870.23" width="10.7" height="10.7" fill="#a80000"/>
<rect x="259.91" y="865.98" width="10.7" height="10.7" fill="#a80000"/>
<circle cx="214.5" cy="881.49" r="5.35" fill="#a80000"/>
<circle cx="342.71" cy="880.31" r="5.35" fill="#a80000"/>
<rect x="336.41" y="901.4" width="10.7" height="10.7" fill="#a80000"/>
<circle cx="206.94" cy="920.44" r="5.35" fill="#a80000"/>
<circle cx="261.49" cy="934.61" r="5.35" fill="#a80000"/>
<rect x="314.69" y="934.69" width="10.7" height="10.7" fill="#a80000"/>
<circle cx="63.51" cy="756.89" r="4.75" fill="#ec0000"/>
<circle cx="94.09" cy="753.31" r="4.75" fill="#ec0000"/>
<rect x="103.24" y="745.78" width="9.5" height="9.5" fill="#ec0000"/>
<circle cx="113.16" cy="760.86" r="4.75" fill="#ec0000"/>
<rect x="111.39" y="755.12" width="9.5" height="9.5" fill="#ec0000"/>
<rect x="122.31" y="758.69" width="9.5" height="9.5" fill="#ec0000"/>
<circle cx="138.38" cy="760.86" r="4.75" fill="#ec0000"/>
<rect x="170.77" y="749.76" width="9.5" height="9.5" fill="#ec0000"/>
<rect x="179.31" y="747.77" width="9.5" height="9.5" fill="#ec0000"/>
<rect x="73.06" y="771.01" width="9.5" height="9.5" fill="#ec0000"/>
<rect x="85.37" y="770.01" width="9.5" height="9.5" fill="#ec0000"/>
<circle cx="96.67" cy="778.74" r="4.75" fill="#ec0000"/>
<rect x="105.83" y="773.99" width="9.5" height="9.5" fill="#ec0000"/>
<circle cx="113.16" cy="788.67" r="4.75" fill="#ec0000"/>
<rect x="136.21" y="770.01" width="9.5" height="9.5" fill="#ec0000"/>
<circle cx="147.32" cy="782.31" r="4.75" fill="#ec0000"/>
<circle cx="152.28" cy="789.66" r="4.75" fill="#ec0000"/>
<circle cx="158.84" cy="786.28" r="4.75" fill="#ec0000"/>
<circle cx="175.12" cy="772.78" r="4.75" fill="#ec0000"/>
<circle cx="172.54" cy="777.74" r="4.75" fill="#ec0000"/>
<rect x="53.59" y="778.36" width="9.5" height="9.5" fill="#ec0000"/>
<circle cx="69.86" cy="787.67" r="4.75" fill="#ec0000"/>
<circle cx="59.53" cy="795.02" r="4.75" fill="#ec0000"/>
<rect x="83.98" y="791.46" width="9.5" height="9.5" fill="#ec0000"/>
<rect x="122.31" y="790.47" width="9.5" height="9.5" fill="#ec0000"/>
<circle cx="45.67" cy="793.89" r="4.75" fill="#ec0000"/>
<circle cx="105.4" cy="806.64" r="4.75" fill="#ec0000"/>
<rect x="116" y="802.83" width="9.5" height="9.5" fill="#ec0000"/>
<circle cx="53.22" cy="813.01" r="4.75" fill="#ec0000"/>
<circle cx="106.82" cy="821.99" r="4.75" fill="#ec0000"/>
<circle cx="161.36" cy="819.39" r="4.75" fill="#ec0000"/>
<rect x="40.25" y="821.29" width="8" height="8" fill="#f6b8c0"/>
<rect x="154.01" y="828.33" width="9.5" height="9.5" fill="#ec0000"/>
<circle cx="185.21" cy="831.9" r="4.75" fill="#ec0000"/>
<rect x="121.94" y="835.69" width="8" height="8" fill="#f6b8c0"/>
<circle cx="40" cy="844.89" r="4.75" fill="#ec0000"/>
<rect x="162.75" y="852.42" width="9.5" height="9.5" fill="#ec0000"/>
<rect x="41.9" y="859.31" width="8" height="8" fill="#f6b8c0"/>
<circle cx="45.9" cy="870.39" r="4" fill="#f6b8c0"/>
<rect x="83.65" y="880.04" width="9.5" height="9.5" fill="#ec0000"/>
<circle cx="92.89" cy="885.5" r="4.75" fill="#ec0000"/>
<circle cx="87.22" cy="886.21" r="4" fill="#f6b8c0"/>
<circle cx="69.75" cy="890.22" r="4.75" fill="#ec0000"/>
<circle cx="115.56" cy="891.64" r="4.75" fill="#ec0000"/>
<circle cx="113.19" cy="913.36" r="4.75" fill="#ec0000"/>
<rect x="45.4" y="916.17" width="9.5" height="9.5" fill="#ec0000"/>
<circle cx="95.25" cy="936.97" r="4.75" fill="#ec0000"/>
<circle cx="175.29" cy="934.14" r="4.75" fill="#ec0000"/>
<rect x="165.82" y="935.29" width="9.5" height="9.5" fill="#ec0000"/>
<rect x="213.06" y="746.87" width="9.5" height="9.5" fill="#ec0000"/>
<rect x="199.6" y="758.68" width="9.5" height="9.5" fill="#ec0000"/>
<circle cx="227.25" cy="762.25" r="4.75" fill="#ec0000"/>
<circle cx="248.74" cy="763.43" r="4.75" fill="#ec0000"/>
<rect x="261.93" y="767.65" width="9.5" height="9.5" fill="#ec0000"/>
<rect x="287.19" y="748.53" width="9.5" height="9.5" fill="#ec0000"/>
<circle cx="344.12" cy="752.81" r="4" fill="#f6b8c0"/>
<rect x="301.12" y="762.22" width="9.5" height="9.5" fill="#ec0000"/>
<circle cx="307.06" cy="779.96" r="4.75" fill="#ec0000"/>
<rect x="196.06" y="780.4" width="9.5" height="9.5" fill="#ec0000"/>
<circle cx="214.5" cy="806.17" r="4.75" fill="#ec0000"/>
<rect x="220.14" y="806.61" width="9.5" height="9.5" fill="#ec0000"/>
<circle cx="244.96" cy="809.24" r="4.75" fill="#ec0000"/>
<rect x="203.61" y="813.22" width="9.5" height="9.5" fill="#ec0000"/>
<circle cx="337.51" cy="815.61" r="4.75" fill="#ec0000"/>
<circle cx="204.35" cy="836.62" r="4.75" fill="#ec0000"/>
<circle cx="205.53" cy="845.36" r="4.75" fill="#ec0000"/>
<rect x="247.57" y="850.81" width="8" height="8" fill="#f6b8c0"/>
<rect x="207.15" y="856.19" width="9.5" height="9.5" fill="#ec0000"/>
<circle cx="224.89" cy="863.07" r="4.75" fill="#ec0000"/>
<rect x="234.31" y="866.11" width="9.5" height="9.5" fill="#ec0000"/>
<rect x="234.31" y="870.83" width="9.5" height="9.5" fill="#ec0000"/>
<rect x="260.51" y="866.58" width="9.5" height="9.5" fill="#ec0000"/>
<circle cx="214.5" cy="881.49" r="4.75" fill="#ec0000"/>
<circle cx="342.71" cy="880.31" r="4.75" fill="#ec0000"/>
<rect x="337.01" y="902" width="9.5" height="9.5" fill="#ec0000"/>
<circle cx="206.94" cy="920.44" r="4.75" fill="#ec0000"/>
<circle cx="261.49" cy="934.61" r="4.75" fill="#ec0000"/>
<rect x="315.29" y="935.29" width="9.5" height="9.5" fill="#ec0000"/>
</g>
<g>
<text transform="translate(38 777.8) rotate(-90)" text-anchor="middle" font-size="8.7" font-weight="bold" textLength="41.5" lengthAdjust="spacingAndGlyphs" fill="#343434">SINISTRA</text>
<text transform="translate(38 844.8) rotate(-90)" text-anchor="middle" font-size="8.7" font-weight="bold" textLength="36.5" lengthAdjust="spacingAndGlyphs" fill="#343434">CENTRO</text>
<text transform="translate(38 906.8) rotate(-90)" text-anchor="middle" font-size="8.7" font-weight="bold" textLength="35.5" lengthAdjust="spacingAndGlyphs" fill="#343434">DESTRA</text>
<rect x="27.2" y="809.8" width="9.8" height="1.8" fill="#2a2a2a"/>
<rect x="27.2" y="875.7" width="9.8" height="1.8" fill="#2a2a2a"/>
<text transform="translate(54.7 776.8) rotate(-90)" text-anchor="middle" font-size="10" font-weight="bold" fill="#343434">52</text>
<text transform="translate(54.7 842.8) rotate(-90)" text-anchor="middle" font-size="10" font-weight="bold" fill="#343434">28</text>
<text transform="translate(54.7 908.8) rotate(-90)" text-anchor="middle" font-size="10" font-weight="bold" fill="#343434">20</text>
<text x="35.9" y="935.3" font-size="15" font-weight="bold" fill="#343434">%</text>
</g>
<clipPath id="c20"><rect x="24" y="741.8" width="329.6" height="200.5"/></clipPath>
<rect x="358.6" y="741.3" width="330.6" height="204.5" fill="#fff" stroke="#a8a8a8" stroke-width="1"/>
<rect x="364.2" y="747.1" width="320" height="193.4" fill="#abdea2"/>
<line x1="524.2" y1="747.1" x2="524.2" y2="940.5" fill="none" stroke="#ffffff" stroke-width="2"/>
<circle cx="524.2" cy="843.8" r="26.5" fill="none" stroke="#ffffff" stroke-width="2"/>
<circle cx="524.2" cy="843.8" r="2" fill="#ffffff"/>
<path d="M364.2 790.4H410.1V897.2H364.2" fill="none" stroke="#ffffff" stroke-width="2"/>
<path d="M364.2 818H378.6V869.6H364.2" fill="none" stroke="#ffffff" stroke-width="2"/>
<circle cx="395.2" cy="843.8" r="2" fill="#ffffff"/>
<path d="M410.1 822.49A26.0 26.0 0 0 1 410.1 865.11" fill="none" stroke="#ffffff" stroke-width="2"/>
<path d="M684.2 790.4H638.3V897.2H684.2" fill="none" stroke="#ffffff" stroke-width="2"/>
<path d="M684.2 818H669.8V869.6H684.2" fill="none" stroke="#ffffff" stroke-width="2"/>
<circle cx="653.2" cy="843.8" r="2" fill="#ffffff"/>
<path d="M638.3 822.49A26.0 26.0 0 0 0 638.3 865.11" fill="none" stroke="#ffffff" stroke-width="2"/>
<path d="M375.7 747.1A11.5 11.5 0 0 1 364.2 758.6" fill="none" stroke="#ffffff" stroke-width="2"/>
<path d="M672.7 747.1A11.5 11.5 0 0 0 684.2 758.6" fill="none" stroke="#ffffff" stroke-width="2"/>
<path d="M364.2 929A11.5 11.5 0 0 1 375.7 940.5" fill="none" stroke="#ffffff" stroke-width="2"/>
<path d="M684.2 929A11.5 11.5 0 0 0 672.7 940.5" fill="none" stroke="#ffffff" stroke-width="2"/>
<rect x="362" y="832.1" width="2.6" height="23.4" fill="#111"/>
<rect x="683.8" y="832.1" width="2.6" height="23.4" fill="#111"/>
<rect x="364.2" y="756.55" width="9.2" height="42.5" fill="#abdea2"/>
<rect x="364.2" y="826.05" width="9.2" height="37.5" fill="#abdea2"/>
<rect x="364.2" y="888.55" width="9.2" height="36.5" fill="#abdea2"/>
<text x="677.7" y="758.4" text-anchor="end" font-size="11.4" font-weight="bold" letter-spacing="0.6" word-spacing="4.5" fill="#142414">©Panini Digital</text>
<g opacity="0.9">
<text x="417.7" y="922.8" text-anchor="middle" font-size="11" font-weight="bold" letter-spacing="2.4" fill="#000000">30</text>
<text x="525.4" y="922.8" text-anchor="middle" font-size="11" font-weight="bold" letter-spacing="2.4" fill="#000000">34</text>
<text x="633.1" y="922.8" text-anchor="middle" font-size="11" font-weight="bold" letter-spacing="2.4" fill="#000000">36</text>
<text x="416.5" y="936.5" text-anchor="middle" font-size="8.8" font-weight="bold" fill="#000000">DIFESA</text>
<text x="524.2" y="936.5" text-anchor="middle" font-size="8.8" font-weight="bold" fill="#000000">CENTROCAMPO</text>
<text x="631.9" y="936.5" text-anchor="middle" font-size="8.8" font-weight="bold" fill="#000000">ATTACCO</text>
<rect x="469.4" y="932.7" width="1.6" height="10" fill="#222"/>
<rect x="576.6" y="932.7" width="1.6" height="10" fill="#222"/>
</g>
<g clip-path="url(#c21)" opacity="0.94">
<circle cx="398.61" cy="771.22" r="5.35" fill="#00004a"/>
<rect x="422.54" y="759.97" width="10.7" height="10.7" fill="#00004a"/>
<rect x="435.29" y="758.08" width="10.7" height="10.7" fill="#00004a"/>
<circle cx="492.35" cy="755.64" r="5.35" fill="#00004a"/>
<rect x="483.93" y="760.44" width="10.7" height="10.7" fill="#00004a"/>
<rect x="498.33" y="759.26" width="10.7" height="10.7" fill="#00004a"/>
<rect x="512.26" y="775.79" width="10.7" height="10.7" fill="#00004a"/>
<rect x="384.52" y="778.15" width="10.7" height="10.7" fill="#00004a"/>
<circle cx="479.6" cy="785.15" r="5.35" fill="#00004a"/>
<circle cx="451.97" cy="801.21" r="5.35" fill="#00004a"/>
<rect x="444.73" y="802.23" width="10.7" height="10.7" fill="#00004a"/>
<circle cx="459.53" cy="810.65" r="5.35" fill="#00004a"/>
<circle cx="506.28" cy="801.68" r="5.35" fill="#00004a"/>
<circle cx="497.54" cy="815.61" r="5.35" fill="#00004a"/>
<circle cx="451.97" cy="867.56" r="5.35" fill="#00004a"/>
<rect x="465.51" y="859.14" width="10.7" height="10.7" fill="#00004a"/>
<circle cx="488.57" cy="860.94" r="5.35" fill="#00004a"/>
<circle cx="454.33" cy="881.72" r="5.35" fill="#00004a"/>
<circle cx="502.74" cy="894.24" r="5.35" fill="#00004a"/>
<rect x="412.15" y="907.3" width="10.7" height="10.7" fill="#00004a"/>
<rect x="442.84" y="910.37" width="10.7" height="10.7" fill="#00004a"/>
<circle cx="469.44" cy="916.9" r="4.6" fill="#a4a4cc"/>
<circle cx="479.6" cy="920.92" r="5.35" fill="#00004a"/>
<circle cx="473.69" cy="923.28" r="5.35" fill="#00004a"/>
<rect x="509.23" y="918.21" width="9.2" height="9.2" fill="#a4a4cc"/>
<circle cx="449.37" cy="933.67" r="5.35" fill="#00004a"/>
<rect x="489.59" y="934.69" width="10.7" height="10.7" fill="#00004a"/>
<rect x="499.04" y="934.69" width="10.7" height="10.7" fill="#00004a"/>
<circle cx="494.94" cy="843" r="5.35" fill="#00004a"/>
<circle cx="411.11" cy="795.33" r="5.35" fill="#00004a"/>
<circle cx="430.22" cy="795.33" r="5.35" fill="#00004a"/>
<circle cx="376.67" cy="805.33" r="4.6" fill="#a4a4cc"/>
<rect x="427.09" y="806.32" width="10.7" height="10.7" fill="#00004a"/>
<rect x="375.43" y="832.65" width="10.7" height="10.7" fill="#00004a"/>
<circle cx="388.56" cy="840.56" r="5.35" fill="#00004a"/>
<circle cx="382.67" cy="848.89" r="4.6" fill="#a4a4cc"/>
<rect x="400.98" y="839.65" width="10.7" height="10.7" fill="#00004a"/>
<circle cx="403.78" cy="846.44" r="4.6" fill="#a4a4cc"/>
<rect x="414.87" y="834.09" width="10.7" height="10.7" fill="#00004a"/>
<circle cx="380.22" cy="858.89" r="4.6" fill="#a4a4cc"/>
<rect x="395.76" y="852.21" width="10.7" height="10.7" fill="#00004a"/>
<rect x="376.18" y="866.29" width="9.2" height="9.2" fill="#a4a4cc"/>
<circle cx="414.89" cy="866.44" r="5.35" fill="#00004a"/>
<circle cx="400.78" cy="878.89" r="5.35" fill="#00004a"/>
<rect x="384.87" y="876.32" width="10.7" height="10.7" fill="#00004a"/>
<circle cx="380.78" cy="885.33" r="5.35" fill="#00004a"/>
<rect x="380.98" y="891.87" width="10.7" height="10.7" fill="#00004a"/>
<circle cx="437.44" cy="878.89" r="5.35" fill="#00004a"/>
<rect x="428.76" y="885.21" width="10.7" height="10.7" fill="#00004a"/>
<circle cx="571.22" cy="755.64" r="5.35" fill="#00004a"/>
<circle cx="579.96" cy="761.07" r="5.35" fill="#00004a"/>
<circle cx="639.69" cy="752.81" r="5.35" fill="#00004a"/>
<rect x="653.23" y="751" width="10.7" height="10.7" fill="#00004a"/>
<rect x="556.9" y="764.46" width="10.7" height="10.7" fill="#00004a"/>
<rect x="565.87" y="783.82" width="10.7" height="10.7" fill="#00004a"/>
<rect x="592.32" y="783.82" width="10.7" height="10.7" fill="#00004a"/>
<circle cx="578.78" cy="802.86" r="5.35" fill="#00004a"/>
<circle cx="606.64" cy="798.85" r="5.35" fill="#00004a"/>
<rect x="663.15" y="783.58" width="10.7" height="10.7" fill="#00004a"/>
<rect x="669.29" y="796.33" width="10.7" height="10.7" fill="#00004a"/>
<rect x="545.33" y="811.68" width="10.7" height="10.7" fill="#00004a"/>
<rect x="594.68" y="807.66" width="10.7" height="10.7" fill="#00004a"/>
<rect x="601.29" y="811.68" width="10.7" height="10.7" fill="#00004a"/>
<circle cx="617.97" cy="814.67" r="5.35" fill="#00004a"/>
<circle cx="620.81" cy="812.31" r="5.35" fill="#00004a"/>
<rect x="619.23" y="821.83" width="10.7" height="10.7" fill="#00004a"/>
<circle cx="534.39" cy="837.81" r="5.35" fill="#00004a"/>
<circle cx="570.99" cy="838.28" r="5.35" fill="#00004a"/>
<rect x="523.84" y="843.55" width="10.7" height="10.7" fill="#00004a"/>
<circle cx="612.78" cy="845.83" r="5.35" fill="#00004a"/>
<rect x="536.83" y="852.76" width="10.7" height="10.7" fill="#00004a"/>
<circle cx="538.17" cy="864.49" r="5.35" fill="#00004a"/>
<circle cx="600.03" cy="864.25" r="5.35" fill="#00004a"/>
<circle cx="605.46" cy="869.68" r="5.35" fill="#00004a"/>
<circle cx="614.19" cy="866.14" r="5.35" fill="#00004a"/>
<circle cx="605.22" cy="877.47" r="5.35" fill="#00004a"/>
<rect x="550.52" y="871.41" width="10.7" height="10.7" fill="#00004a"/>
<circle cx="558.47" cy="883.85" r="5.35" fill="#00004a"/>
<rect x="529.27" y="882.04" width="10.7" height="10.7" fill="#00004a"/>
<rect x="539.43" y="879.68" width="10.7" height="10.7" fill="#00004a"/>
<rect x="620.18" y="882.51" width="10.7" height="10.7" fill="#00004a"/>
<rect x="631.51" y="883.69" width="10.7" height="10.7" fill="#00004a"/>
<circle cx="683.61" cy="885.03" r="5.35" fill="#00004a"/>
<circle cx="547.61" cy="900.37" r="5.35" fill="#00004a"/>
<circle cx="555.87" cy="898.72" r="5.35" fill="#00004a"/>
<rect x="534" y="900.22" width="10.7" height="10.7" fill="#00004a"/>
<rect x="556.43" y="901.4" width="10.7" height="10.7" fill="#00004a"/>
<rect x="585.94" y="886.76" width="10.7" height="10.7" fill="#00004a"/>
<rect x="579.57" y="893.37" width="10.7" height="10.7" fill="#00004a"/>
<circle cx="578.78" cy="903.92" r="5.35" fill="#00004a"/>
<rect x="597.51" y="896.68" width="10.7" height="10.7" fill="#00004a"/>
<circle cx="659.76" cy="900.61" r="5.35" fill="#00004a"/>
<circle cx="666.14" cy="913.12" r="5.35" fill="#00004a"/>
<circle cx="573.35" cy="916.9" r="5.35" fill="#00004a"/>
<rect x="600.11" y="926.43" width="10.7" height="10.7" fill="#00004a"/>
<circle cx="613.25" cy="935.32" r="5.35" fill="#00004a"/>
<circle cx="649.85" cy="936.97" r="5.35" fill="#00004a"/>
<rect x="656.07" y="928.08" width="10.7" height="10.7" fill="#00004a"/>
<rect x="675.23" y="933.08" width="9.2" height="9.2" fill="#a4a4cc"/>
<rect x="523.37" y="933.51" width="10.7" height="10.7" fill="#00004a"/>
<rect x="529.27" y="931.62" width="10.7" height="10.7" fill="#00004a"/>
<rect x="449.25" y="839.55" width="10.7" height="10.7" fill="#00004a"/>
<circle cx="398.61" cy="771.22" r="4.75" fill="#00009a"/>
<rect x="423.14" y="760.57" width="9.5" height="9.5" fill="#00009a"/>
<rect x="435.89" y="758.68" width="9.5" height="9.5" fill="#00009a"/>
<circle cx="492.35" cy="755.64" r="4.75" fill="#00009a"/>
<rect x="484.53" y="761.04" width="9.5" height="9.5" fill="#00009a"/>
<rect x="498.93" y="759.86" width="9.5" height="9.5" fill="#00009a"/>
<rect x="512.86" y="776.39" width="9.5" height="9.5" fill="#00009a"/>
<rect x="385.12" y="778.75" width="9.5" height="9.5" fill="#00009a"/>
<circle cx="479.6" cy="785.15" r="4.75" fill="#00009a"/>
<circle cx="451.97" cy="801.21" r="4.75" fill="#00009a"/>
<rect x="445.33" y="802.83" width="9.5" height="9.5" fill="#00009a"/>
<circle cx="459.53" cy="810.65" r="4.75" fill="#00009a"/>
<circle cx="506.28" cy="801.68" r="4.75" fill="#00009a"/>
<circle cx="497.54" cy="815.61" r="4.75" fill="#00009a"/>
<circle cx="451.97" cy="867.56" r="4.75" fill="#00009a"/>
<rect x="466.11" y="859.74" width="9.5" height="9.5" fill="#00009a"/>
<circle cx="488.57" cy="860.94" r="4.75" fill="#00009a"/>
<circle cx="454.33" cy="881.72" r="4.75" fill="#00009a"/>
<circle cx="502.74" cy="894.24" r="4.75" fill="#00009a"/>
<rect x="412.75" y="907.9" width="9.5" height="9.5" fill="#00009a"/>
<rect x="443.44" y="910.97" width="9.5" height="9.5" fill="#00009a"/>
<circle cx="469.44" cy="916.9" r="4" fill="#c0c0ee"/>
<circle cx="479.6" cy="920.92" r="4.75" fill="#00009a"/>
<circle cx="473.69" cy="923.28" r="4.75" fill="#00009a"/>
<rect x="509.83" y="918.81" width="8" height="8" fill="#c0c0ee"/>
<circle cx="449.37" cy="933.67" r="4.75" fill="#00009a"/>
<rect x="490.19" y="935.29" width="9.5" height="9.5" fill="#00009a"/>
<rect x="499.64" y="935.29" width="9.5" height="9.5" fill="#00009a"/>
<circle cx="494.94" cy="843" r="4.75" fill="#00009a"/>
<circle cx="411.11" cy="795.33" r="4.75" fill="#00009a"/>
<circle cx="430.22" cy="795.33" r="4.75" fill="#00009a"/>
<circle cx="376.67" cy="805.33" r="4" fill="#c0c0ee"/>
<rect x="427.69" y="806.92" width="9.5" height="9.5" fill="#00009a"/>
<rect x="376.03" y="833.25" width="9.5" height="9.5" fill="#00009a"/>
<circle cx="388.56" cy="840.56" r="4.75" fill="#00009a"/>
<circle cx="382.67" cy="848.89" r="4" fill="#c0c0ee"/>
<rect x="401.58" y="840.25" width="9.5" height="9.5" fill="#00009a"/>
<circle cx="403.78" cy="846.44" r="4" fill="#c0c0ee"/>
<rect x="415.47" y="834.69" width="9.5" height="9.5" fill="#00009a"/>
<circle cx="380.22" cy="858.89" r="4" fill="#c0c0ee"/>
<rect x="396.36" y="852.81" width="9.5" height="9.5" fill="#00009a"/>
<rect x="376.78" y="866.89" width="8" height="8" fill="#c0c0ee"/>
<circle cx="414.89" cy="866.44" r="4.75" fill="#00009a"/>
<circle cx="400.78" cy="878.89" r="4.75" fill="#00009a"/>
<rect x="385.47" y="876.92" width="9.5" height="9.5" fill="#00009a"/>
<circle cx="380.78" cy="885.33" r="4.75" fill="#00009a"/>
<rect x="381.58" y="892.47" width="9.5" height="9.5" fill="#00009a"/>
<circle cx="437.44" cy="878.89" r="4.75" fill="#00009a"/>
<rect x="429.36" y="885.81" width="9.5" height="9.5" fill="#00009a"/>
<circle cx="571.22" cy="755.64" r="4.75" fill="#00009a"/>
<circle cx="579.96" cy="761.07" r="4.75" fill="#00009a"/>
<circle cx="639.69" cy="752.81" r="4.75" fill="#00009a"/>
<rect x="653.83" y="751.6" width="9.5" height="9.5" fill="#00009a"/>
<rect x="557.5" y="765.06" width="9.5" height="9.5" fill="#00009a"/>
<rect x="566.47" y="784.42" width="9.5" height="9.5" fill="#00009a"/>
<rect x="592.92" y="784.42" width="9.5" height="9.5" fill="#00009a"/>
<circle cx="578.78" cy="802.86" r="4.75" fill="#00009a"/>
<circle cx="606.64" cy="798.85" r="4.75" fill="#00009a"/>
<rect x="663.75" y="784.18" width="9.5" height="9.5" fill="#00009a"/>
<rect x="669.89" y="796.93" width="9.5" height="9.5" fill="#00009a"/>
<rect x="545.93" y="812.28" width="9.5" height="9.5" fill="#00009a"/>
<rect x="595.28" y="808.26" width="9.5" height="9.5" fill="#00009a"/>
<rect x="601.89" y="812.28" width="9.5" height="9.5" fill="#00009a"/>
<circle cx="617.97" cy="814.67" r="4.75" fill="#00009a"/>
<circle cx="620.81" cy="812.31" r="4.75" fill="#00009a"/>
<rect x="619.83" y="822.43" width="9.5" height="9.5" fill="#00009a"/>
<circle cx="534.39" cy="837.81" r="4.75" fill="#00009a"/>
<circle cx="570.99" cy="838.28" r="4.75" fill="#00009a"/>
<rect x="524.44" y="844.15" width="9.5" height="9.5" fill="#00009a"/>
<circle cx="612.78" cy="845.83" r="4.75" fill="#00009a"/>
<rect x="537.43" y="853.36" width="9.5" height="9.5" fill="#00009a"/>
<circle cx="538.17" cy="864.49" r="4.75" fill="#00009a"/>
<circle cx="600.03" cy="864.25" r="4.75" fill="#00009a"/>
<circle cx="605.46" cy="869.68" r="4.75" fill="#00009a"/>
<circle cx="614.19" cy="866.14" r="4.75" fill="#00009a"/>
<circle cx="605.22" cy="877.47" r="4.75" fill="#00009a"/>
<rect x="551.12" y="872.01" width="9.5" height="9.5" fill="#00009a"/>
<circle cx="558.47" cy="883.85" r="4.75" fill="#00009a"/>
<rect x="529.87" y="882.64" width="9.5" height="9.5" fill="#00009a"/>
<rect x="540.03" y="880.28" width="9.5" height="9.5" fill="#00009a"/>
<rect x="620.78" y="883.11" width="9.5" height="9.5" fill="#00009a"/>
<rect x="632.11" y="884.29" width="9.5" height="9.5" fill="#00009a"/>
<circle cx="683.61" cy="885.03" r="4.75" fill="#00009a"/>
<circle cx="547.61" cy="900.37" r="4.75" fill="#00009a"/>
<circle cx="555.87" cy="898.72" r="4.75" fill="#00009a"/>
<rect x="534.6" y="900.82" width="9.5" height="9.5" fill="#00009a"/>
<rect x="557.03" y="902" width="9.5" height="9.5" fill="#00009a"/>
<rect x="586.54" y="887.36" width="9.5" height="9.5" fill="#00009a"/>
<rect x="580.17" y="893.97" width="9.5" height="9.5" fill="#00009a"/>
<circle cx="578.78" cy="903.92" r="4.75" fill="#00009a"/>
<rect x="598.11" y="897.28" width="9.5" height="9.5" fill="#00009a"/>
<circle cx="659.76" cy="900.61" r="4.75" fill="#00009a"/>
<circle cx="666.14" cy="913.12" r="4.75" fill="#00009a"/>
<circle cx="573.35" cy="916.9" r="4.75" fill="#00009a"/>
<rect x="600.71" y="927.03" width="9.5" height="9.5" fill="#00009a"/>
<circle cx="613.25" cy="935.32" r="4.75" fill="#00009a"/>
<circle cx="649.85" cy="936.97" r="4.75" fill="#00009a"/>
<rect x="656.67" y="928.68" width="9.5" height="9.5" fill="#00009a"/>
<rect x="675.83" y="933.68" width="8" height="8" fill="#c0c0ee"/>
<rect x="523.97" y="934.11" width="9.5" height="9.5" fill="#00009a"/>
<rect x="529.87" y="932.22" width="9.5" height="9.5" fill="#00009a"/>
<rect x="449.85" y="840.15" width="9.5" height="9.5" fill="#00009a"/>
</g>
<g>
<text transform="translate(372.8 777.8) rotate(-90)" text-anchor="middle" font-size="8.7" font-weight="bold" textLength="41.5" lengthAdjust="spacingAndGlyphs" fill="#343434">SINISTRA</text>
<text transform="translate(372.8 844.8) rotate(-90)" text-anchor="middle" font-size="8.7" font-weight="bold" textLength="36.5" lengthAdjust="spacingAndGlyphs" fill="#343434">CENTRO</text>
<text transform="translate(372.8 906.8) rotate(-90)" text-anchor="middle" font-size="8.7" font-weight="bold" textLength="35.5" lengthAdjust="spacingAndGlyphs" fill="#343434">DESTRA</text>
<rect x="362" y="809.8" width="9.8" height="1.8" fill="#2a2a2a"/>
<rect x="362" y="875.7" width="9.8" height="1.8" fill="#2a2a2a"/>
<text transform="translate(389.5 776.8) rotate(-90)" text-anchor="middle" font-size="10" font-weight="bold" fill="#343434">35</text>
<text transform="translate(389.5 842.8) rotate(-90)" text-anchor="middle" font-size="10" font-weight="bold" fill="#343434">19</text>
<text transform="translate(389.5 908.8) rotate(-90)" text-anchor="middle" font-size="10" font-weight="bold" fill="#343434">46</text>
<text x="370.7" y="935.3" font-size="15" font-weight="bold" fill="#343434">%</text>
</g>
<clipPath id="c21"><rect x="359.1" y="741.8" width="329.6" height="200.5"/></clipPath>
<text x="33.7" y="994.3" text-anchor="middle" font-size="15" font-weight="bold" fill="#333">6</text>
<rect x="55" y="990.6" width="240.5" height="1.6" fill="#444"/>
<rect x="420.5" y="990.6" width="278.5" height="1.6" fill="#444"/>
<path d="M304.4 980.6 L413.6 980.6 Q415 980.6 414.7 982 L411.9 998.8 Q411.6 1000.3 410.2 1000.3 L301.2 1000.3 Q299.9 1000.3 300.2 999 L303 982 Q303.2 980.6 304.4 980.6 Z" fill="#ffe800" stroke="#6a5a10" stroke-width="1.4"/>
<g fill="#e00000"><circle cx="307.6" cy="986" r="2.7"/><circle cx="312.6" cy="985.6" r="2.7"/><circle cx="315.6" cy="989.2" r="2.1"/><circle cx="310.2" cy="990.4" r="2.8"/><circle cx="308.6" cy="995.2" r="2.5"/></g>
<text x="317.4" y="992.6" font-size="11" font-weight="bold" font-style="italic" fill="#e00000" stroke="#b00000" stroke-width="0.7" textLength="47.2" lengthAdjust="spacingAndGlyphs">PANINI</text>
<text x="367" y="992.6" font-size="11" font-style="italic" fill="#b40000" stroke="#700000" stroke-width="0.35" textLength="42" lengthAdjust="spacingAndGlyphs">DIGITAL</text>
<text x="316.3" y="998.4" font-size="4.6" font-weight="bold" font-style="italic" fill="#4a2000" textLength="92" lengthAdjust="spacing">digitalsoccer project</text>
</svg>
</body></html>
